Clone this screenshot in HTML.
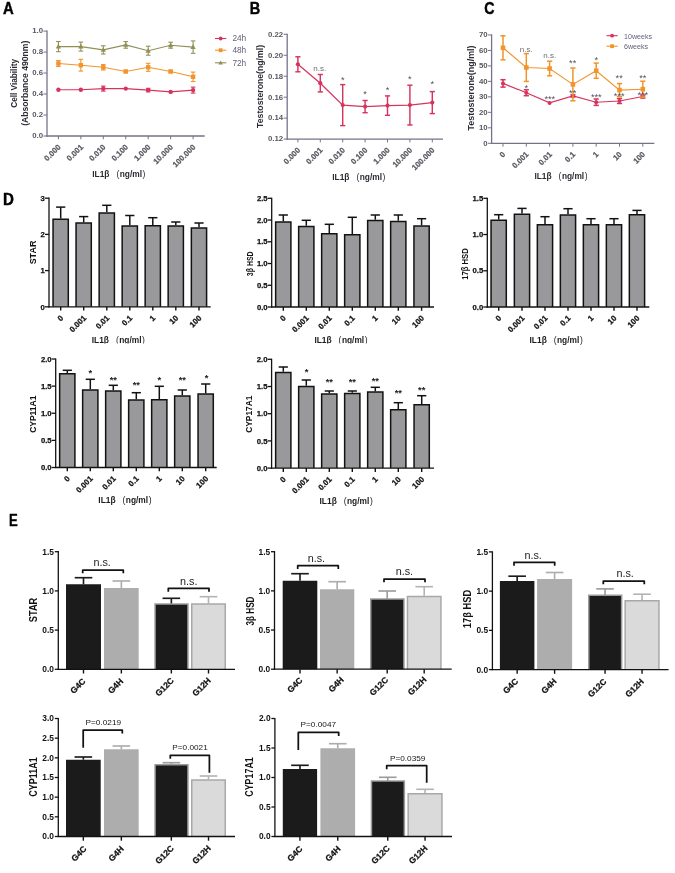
<!DOCTYPE html>
<html><head><meta charset="utf-8"><title>Figure</title>
<style>html,body{margin:0;padding:0;background:#fff;}svg{display:block;}text{font-family:"Liberation Sans",sans-serif;}</style>
</head><body>
<svg width="675" height="873" viewBox="0 0 675 873">
<rect x="0" y="0" width="675" height="873" fill="#ffffff"/>
<g opacity="0.996">
<text transform="translate(3 13.8) scale(0.88 1)" x="0" y="0" font-size="16.9" font-weight="bold" fill="#000" stroke="#000" stroke-width="0.45">A</text>
<text transform="translate(249.7 13.8) scale(0.86 1)" x="0" y="0" font-size="16.9" font-weight="bold" fill="#000" stroke="#000" stroke-width="0.45">B</text>
<text transform="translate(484.3 13.9) scale(0.82 1)" x="0" y="0" font-size="17.3" font-weight="bold" fill="#000" stroke="#000" stroke-width="0.45">C</text>
<text transform="translate(3.1 204.8) scale(0.93 1)" x="0" y="0" font-size="16.2" font-weight="bold" fill="#000" stroke="#000" stroke-width="0.45">D</text>
<text transform="translate(9 526.4) scale(0.76 1)" x="0" y="0" font-size="17.2" font-weight="bold" fill="#000" stroke="#000" stroke-width="0.45">E</text>
<line x1="47" y1="30.5" x2="47" y2="136.65" stroke="#737289" stroke-width="1.3" stroke-linecap="butt"/>
<line x1="46.35" y1="136" x2="204.7" y2="136" stroke="#737289" stroke-width="1.3" stroke-linecap="butt"/>
<line x1="43.4" y1="136" x2="47" y2="136" stroke="#737289" stroke-width="1" stroke-linecap="butt"/>
<text x="43" y="138.35" font-size="7.8" font-weight="bold" fill="#57565f" text-anchor="end">0.0</text>
<line x1="43.4" y1="115.02" x2="47" y2="115.02" stroke="#737289" stroke-width="1" stroke-linecap="butt"/>
<text x="43" y="117.37" font-size="7.8" font-weight="bold" fill="#57565f" text-anchor="end">0.2</text>
<line x1="43.4" y1="94.04" x2="47" y2="94.04" stroke="#737289" stroke-width="1" stroke-linecap="butt"/>
<text x="43" y="96.39" font-size="7.8" font-weight="bold" fill="#57565f" text-anchor="end">0.4</text>
<line x1="43.4" y1="73.06" x2="47" y2="73.06" stroke="#737289" stroke-width="1" stroke-linecap="butt"/>
<text x="43" y="75.41" font-size="7.8" font-weight="bold" fill="#57565f" text-anchor="end">0.6</text>
<line x1="43.4" y1="52.08" x2="47" y2="52.08" stroke="#737289" stroke-width="1" stroke-linecap="butt"/>
<text x="43" y="54.43" font-size="7.8" font-weight="bold" fill="#57565f" text-anchor="end">0.8</text>
<line x1="43.4" y1="31.1" x2="47" y2="31.1" stroke="#737289" stroke-width="1" stroke-linecap="butt"/>
<text x="43" y="33.45" font-size="7.8" font-weight="bold" fill="#57565f" text-anchor="end">1.0</text>
<line x1="58.4" y1="136" x2="58.4" y2="139.3" stroke="#737289" stroke-width="1" stroke-linecap="butt"/>
<text x="0" y="0" transform="translate(61.3 147.6) rotate(-45)" font-size="7.9" font-weight="bold" fill="#57565f" text-anchor="end" stroke="#57565f" stroke-width="0.2">0.000</text>
<line x1="80.85" y1="136" x2="80.85" y2="139.3" stroke="#737289" stroke-width="1" stroke-linecap="butt"/>
<text x="0" y="0" transform="translate(83.75 147.6) rotate(-45)" font-size="7.9" font-weight="bold" fill="#57565f" text-anchor="end" stroke="#57565f" stroke-width="0.2">0.001</text>
<line x1="103.3" y1="136" x2="103.3" y2="139.3" stroke="#737289" stroke-width="1" stroke-linecap="butt"/>
<text x="0" y="0" transform="translate(106.2 147.6) rotate(-45)" font-size="7.9" font-weight="bold" fill="#57565f" text-anchor="end" stroke="#57565f" stroke-width="0.2">0.010</text>
<line x1="125.75" y1="136" x2="125.75" y2="139.3" stroke="#737289" stroke-width="1" stroke-linecap="butt"/>
<text x="0" y="0" transform="translate(128.65 147.6) rotate(-45)" font-size="7.9" font-weight="bold" fill="#57565f" text-anchor="end" stroke="#57565f" stroke-width="0.2">0.100</text>
<line x1="148.2" y1="136" x2="148.2" y2="139.3" stroke="#737289" stroke-width="1" stroke-linecap="butt"/>
<text x="0" y="0" transform="translate(151.1 147.6) rotate(-45)" font-size="7.9" font-weight="bold" fill="#57565f" text-anchor="end" stroke="#57565f" stroke-width="0.2">1.000</text>
<line x1="170.65" y1="136" x2="170.65" y2="139.3" stroke="#737289" stroke-width="1" stroke-linecap="butt"/>
<text x="0" y="0" transform="translate(173.55 147.6) rotate(-45)" font-size="7.9" font-weight="bold" fill="#57565f" text-anchor="end" stroke="#57565f" stroke-width="0.2">10.000</text>
<line x1="193.1" y1="136" x2="193.1" y2="139.3" stroke="#737289" stroke-width="1" stroke-linecap="butt"/>
<text x="0" y="0" transform="translate(196 147.6) rotate(-45)" font-size="7.9" font-weight="bold" fill="#57565f" text-anchor="end" stroke="#57565f" stroke-width="0.2">100.000</text>
<path d="M58.4 46.6 L80.85 46.6 L103.3 49.9 L125.75 44.9 L148.2 50.7 L170.65 45.2 L193.1 47.1" fill="none" stroke="#918f55" stroke-width="1.1"/>
<line x1="58.4" y1="41.5" x2="58.4" y2="51.7" stroke="#918f55" stroke-width="1.1" stroke-linecap="butt"/>
<line x1="56.1" y1="41.5" x2="60.7" y2="41.5" stroke="#918f55" stroke-width="1.1" stroke-linecap="butt"/>
<line x1="56.1" y1="51.7" x2="60.7" y2="51.7" stroke="#918f55" stroke-width="1.1" stroke-linecap="butt"/>
<path d="M58.4 43.84 L61.05 48.55 L55.75 48.55 Z" fill="#918f55"/>
<line x1="80.85" y1="42.1" x2="80.85" y2="51.1" stroke="#918f55" stroke-width="1.1" stroke-linecap="butt"/>
<line x1="78.55" y1="42.1" x2="83.15" y2="42.1" stroke="#918f55" stroke-width="1.1" stroke-linecap="butt"/>
<line x1="78.55" y1="51.1" x2="83.15" y2="51.1" stroke="#918f55" stroke-width="1.1" stroke-linecap="butt"/>
<path d="M80.85 43.84 L83.49 48.55 L78.2 48.55 Z" fill="#918f55"/>
<line x1="103.3" y1="45.8" x2="103.3" y2="54" stroke="#918f55" stroke-width="1.1" stroke-linecap="butt"/>
<line x1="101" y1="45.8" x2="105.6" y2="45.8" stroke="#918f55" stroke-width="1.1" stroke-linecap="butt"/>
<line x1="101" y1="54" x2="105.6" y2="54" stroke="#918f55" stroke-width="1.1" stroke-linecap="butt"/>
<path d="M103.3 47.14 L105.94 51.85 L100.66 51.85 Z" fill="#918f55"/>
<line x1="125.75" y1="41.6" x2="125.75" y2="48.2" stroke="#918f55" stroke-width="1.1" stroke-linecap="butt"/>
<line x1="123.45" y1="41.6" x2="128.05" y2="41.6" stroke="#918f55" stroke-width="1.1" stroke-linecap="butt"/>
<line x1="123.45" y1="48.2" x2="128.05" y2="48.2" stroke="#918f55" stroke-width="1.1" stroke-linecap="butt"/>
<path d="M125.75 42.14 L128.4 46.85 L123.11 46.85 Z" fill="#918f55"/>
<line x1="148.2" y1="46.2" x2="148.2" y2="55.2" stroke="#918f55" stroke-width="1.1" stroke-linecap="butt"/>
<line x1="145.9" y1="46.2" x2="150.5" y2="46.2" stroke="#918f55" stroke-width="1.1" stroke-linecap="butt"/>
<line x1="145.9" y1="55.2" x2="150.5" y2="55.2" stroke="#918f55" stroke-width="1.1" stroke-linecap="butt"/>
<path d="M148.2 47.94 L150.84 52.66 L145.55 52.66 Z" fill="#918f55"/>
<line x1="170.65" y1="42.2" x2="170.65" y2="48.2" stroke="#918f55" stroke-width="1.1" stroke-linecap="butt"/>
<line x1="168.35" y1="42.2" x2="172.95" y2="42.2" stroke="#918f55" stroke-width="1.1" stroke-linecap="butt"/>
<line x1="168.35" y1="48.2" x2="172.95" y2="48.2" stroke="#918f55" stroke-width="1.1" stroke-linecap="butt"/>
<path d="M170.65 42.44 L173.3 47.16 L168 47.16 Z" fill="#918f55"/>
<line x1="193.1" y1="40.9" x2="193.1" y2="53.3" stroke="#918f55" stroke-width="1.1" stroke-linecap="butt"/>
<line x1="190.8" y1="40.9" x2="195.4" y2="40.9" stroke="#918f55" stroke-width="1.1" stroke-linecap="butt"/>
<line x1="190.8" y1="53.3" x2="195.4" y2="53.3" stroke="#918f55" stroke-width="1.1" stroke-linecap="butt"/>
<path d="M193.1 44.34 L195.75 49.05 L190.45 49.05 Z" fill="#918f55"/>
<path d="M58.4 63.5 L80.85 65.2 L103.3 67.3 L125.75 71.5 L148.2 67.3 L170.65 71.5 L193.1 76.8" fill="none" stroke="#f2932a" stroke-width="1.1"/>
<line x1="58.4" y1="60.6" x2="58.4" y2="66.4" stroke="#f2932a" stroke-width="1.1" stroke-linecap="butt"/>
<line x1="56.1" y1="60.6" x2="60.7" y2="60.6" stroke="#f2932a" stroke-width="1.1" stroke-linecap="butt"/>
<line x1="56.1" y1="66.4" x2="60.7" y2="66.4" stroke="#f2932a" stroke-width="1.1" stroke-linecap="butt"/>
<rect x="56.21" y="61.31" width="4.37" height="4.37" fill="#f2932a"/>
<line x1="80.85" y1="59.3" x2="80.85" y2="71.1" stroke="#f2932a" stroke-width="1.1" stroke-linecap="butt"/>
<line x1="78.55" y1="59.3" x2="83.15" y2="59.3" stroke="#f2932a" stroke-width="1.1" stroke-linecap="butt"/>
<line x1="78.55" y1="71.1" x2="83.15" y2="71.1" stroke="#f2932a" stroke-width="1.1" stroke-linecap="butt"/>
<rect x="78.66" y="63.02" width="4.37" height="4.37" fill="#f2932a"/>
<line x1="103.3" y1="64.6" x2="103.3" y2="70" stroke="#f2932a" stroke-width="1.1" stroke-linecap="butt"/>
<line x1="101" y1="64.6" x2="105.6" y2="64.6" stroke="#f2932a" stroke-width="1.1" stroke-linecap="butt"/>
<line x1="101" y1="70" x2="105.6" y2="70" stroke="#f2932a" stroke-width="1.1" stroke-linecap="butt"/>
<rect x="101.11" y="65.11" width="4.37" height="4.37" fill="#f2932a"/>
<line x1="125.75" y1="70.3" x2="125.75" y2="72.7" stroke="#f2932a" stroke-width="1.1" stroke-linecap="butt"/>
<line x1="123.45" y1="70.3" x2="128.05" y2="70.3" stroke="#f2932a" stroke-width="1.1" stroke-linecap="butt"/>
<line x1="123.45" y1="72.7" x2="128.05" y2="72.7" stroke="#f2932a" stroke-width="1.1" stroke-linecap="butt"/>
<rect x="123.56" y="69.31" width="4.37" height="4.37" fill="#f2932a"/>
<line x1="148.2" y1="63.3" x2="148.2" y2="71.3" stroke="#f2932a" stroke-width="1.1" stroke-linecap="butt"/>
<line x1="145.9" y1="63.3" x2="150.5" y2="63.3" stroke="#f2932a" stroke-width="1.1" stroke-linecap="butt"/>
<line x1="145.9" y1="71.3" x2="150.5" y2="71.3" stroke="#f2932a" stroke-width="1.1" stroke-linecap="butt"/>
<rect x="146.01" y="65.11" width="4.37" height="4.37" fill="#f2932a"/>
<line x1="170.65" y1="70.3" x2="170.65" y2="72.7" stroke="#f2932a" stroke-width="1.1" stroke-linecap="butt"/>
<line x1="168.35" y1="70.3" x2="172.95" y2="70.3" stroke="#f2932a" stroke-width="1.1" stroke-linecap="butt"/>
<line x1="168.35" y1="72.7" x2="172.95" y2="72.7" stroke="#f2932a" stroke-width="1.1" stroke-linecap="butt"/>
<rect x="168.47" y="69.31" width="4.37" height="4.37" fill="#f2932a"/>
<line x1="193.1" y1="72.1" x2="193.1" y2="81.5" stroke="#f2932a" stroke-width="1.1" stroke-linecap="butt"/>
<line x1="190.8" y1="72.1" x2="195.4" y2="72.1" stroke="#f2932a" stroke-width="1.1" stroke-linecap="butt"/>
<line x1="190.8" y1="81.5" x2="195.4" y2="81.5" stroke="#f2932a" stroke-width="1.1" stroke-linecap="butt"/>
<rect x="190.91" y="74.61" width="4.37" height="4.37" fill="#f2932a"/>
<path d="M58.4 89.8 L80.85 89.8 L103.3 88.6 L125.75 88.6 L148.2 90.1 L170.65 91.9 L193.1 90.1" fill="none" stroke="#d5335d" stroke-width="1.1"/>
<circle cx="58.4" cy="89.8" r="2.18" fill="#d5335d"/>
<circle cx="80.85" cy="89.8" r="2.18" fill="#d5335d"/>
<line x1="103.3" y1="86.1" x2="103.3" y2="91.1" stroke="#d5335d" stroke-width="1.1" stroke-linecap="butt"/>
<line x1="101" y1="86.1" x2="105.6" y2="86.1" stroke="#d5335d" stroke-width="1.1" stroke-linecap="butt"/>
<line x1="101" y1="91.1" x2="105.6" y2="91.1" stroke="#d5335d" stroke-width="1.1" stroke-linecap="butt"/>
<circle cx="103.3" cy="88.6" r="2.18" fill="#d5335d"/>
<circle cx="125.75" cy="88.6" r="2.18" fill="#d5335d"/>
<line x1="148.2" y1="88.3" x2="148.2" y2="91.9" stroke="#d5335d" stroke-width="1.1" stroke-linecap="butt"/>
<line x1="145.9" y1="88.3" x2="150.5" y2="88.3" stroke="#d5335d" stroke-width="1.1" stroke-linecap="butt"/>
<line x1="145.9" y1="91.9" x2="150.5" y2="91.9" stroke="#d5335d" stroke-width="1.1" stroke-linecap="butt"/>
<circle cx="148.2" cy="90.1" r="2.18" fill="#d5335d"/>
<circle cx="170.65" cy="91.9" r="2.18" fill="#d5335d"/>
<line x1="193.1" y1="87.1" x2="193.1" y2="93.1" stroke="#d5335d" stroke-width="1.1" stroke-linecap="butt"/>
<line x1="190.8" y1="87.1" x2="195.4" y2="87.1" stroke="#d5335d" stroke-width="1.1" stroke-linecap="butt"/>
<line x1="190.8" y1="93.1" x2="195.4" y2="93.1" stroke="#d5335d" stroke-width="1.1" stroke-linecap="butt"/>
<circle cx="193.1" cy="90.1" r="2.18" fill="#d5335d"/>
<text x="0" y="0" transform="translate(17.4 83.4) rotate(-90)" font-size="8.5" font-weight="bold" fill="#2b2a33" text-anchor="middle" textLength="48.8" lengthAdjust="spacingAndGlyphs">Cell Viability</text>
<text x="0" y="0" transform="translate(27.7 83.25) rotate(-90)" font-size="8.5" font-weight="bold" fill="#2b2a33" text-anchor="middle" textLength="85.1" lengthAdjust="spacingAndGlyphs">(Absorbance 490nm)</text>
<text x="92.2" y="176.6" font-size="8.6" font-weight="bold" fill="#2b2a33" text-anchor="start" textLength="17.3" lengthAdjust="spacingAndGlyphs">IL1β</text>
<text x="116.4" y="176.6" font-size="8.6" font-weight="normal" fill="#2b2a33" text-anchor="start">(</text>
<text x="119.7" y="176.6" font-size="8.6" font-weight="bold" fill="#2b2a33" text-anchor="start" textLength="22.3" lengthAdjust="spacingAndGlyphs">ng/ml</text>
<text x="142.6" y="176.6" font-size="8.6" font-weight="normal" fill="#2b2a33" text-anchor="start">)</text>
<line x1="215" y1="38.5" x2="226.3" y2="38.5" stroke="#d5335d" stroke-width="1.1" stroke-linecap="butt"/>
<circle cx="220.65" cy="38.5" r="1.9" fill="#d5335d"/>
<text x="232.4" y="41.3" font-size="8.3" font-weight="normal" fill="#625c78" text-anchor="start">24h</text>
<line x1="215" y1="50.2" x2="226.3" y2="50.2" stroke="#f2932a" stroke-width="1.1" stroke-linecap="butt"/>
<rect x="218.75" y="48.3" width="3.8" height="3.8" fill="#f2932a"/>
<text x="232.4" y="53" font-size="8.3" font-weight="normal" fill="#625c78" text-anchor="start">48h</text>
<line x1="215" y1="62.8" x2="226.3" y2="62.8" stroke="#918f55" stroke-width="1.1" stroke-linecap="butt"/>
<path d="M220.65 60.4 L222.95 64.5 L218.35 64.5 Z" fill="#918f55"/>
<text x="232.4" y="65.6" font-size="8.3" font-weight="normal" fill="#625c78" text-anchor="start">72h</text>
<line x1="287.2" y1="33.7" x2="287.2" y2="139.75" stroke="#737289" stroke-width="1.3" stroke-linecap="butt"/>
<line x1="286.55" y1="139.1" x2="443" y2="139.1" stroke="#737289" stroke-width="1.3" stroke-linecap="butt"/>
<line x1="283.6" y1="139.1" x2="287.2" y2="139.1" stroke="#737289" stroke-width="1" stroke-linecap="butt"/>
<text x="283.2" y="141.45" font-size="7.8" font-weight="bold" fill="#57565f" text-anchor="end">0.12</text>
<line x1="283.6" y1="118.14" x2="287.2" y2="118.14" stroke="#737289" stroke-width="1" stroke-linecap="butt"/>
<text x="283.2" y="120.49" font-size="7.8" font-weight="bold" fill="#57565f" text-anchor="end">0.14</text>
<line x1="283.6" y1="97.18" x2="287.2" y2="97.18" stroke="#737289" stroke-width="1" stroke-linecap="butt"/>
<text x="283.2" y="99.53" font-size="7.8" font-weight="bold" fill="#57565f" text-anchor="end">0.16</text>
<line x1="283.6" y1="76.22" x2="287.2" y2="76.22" stroke="#737289" stroke-width="1" stroke-linecap="butt"/>
<text x="283.2" y="78.57" font-size="7.8" font-weight="bold" fill="#57565f" text-anchor="end">0.18</text>
<line x1="283.6" y1="55.26" x2="287.2" y2="55.26" stroke="#737289" stroke-width="1" stroke-linecap="butt"/>
<text x="283.2" y="57.61" font-size="7.8" font-weight="bold" fill="#57565f" text-anchor="end">0.20</text>
<line x1="283.6" y1="34.3" x2="287.2" y2="34.3" stroke="#737289" stroke-width="1" stroke-linecap="butt"/>
<text x="283.2" y="36.65" font-size="7.8" font-weight="bold" fill="#57565f" text-anchor="end">0.22</text>
<line x1="297.9" y1="139.1" x2="297.9" y2="142.4" stroke="#737289" stroke-width="1" stroke-linecap="butt"/>
<text x="0" y="0" transform="translate(300.8 150.7) rotate(-45)" font-size="7.9" font-weight="bold" fill="#57565f" text-anchor="end" stroke="#57565f" stroke-width="0.2">0.000</text>
<line x1="320.3" y1="139.1" x2="320.3" y2="142.4" stroke="#737289" stroke-width="1" stroke-linecap="butt"/>
<text x="0" y="0" transform="translate(323.2 150.7) rotate(-45)" font-size="7.9" font-weight="bold" fill="#57565f" text-anchor="end" stroke="#57565f" stroke-width="0.2">0.001</text>
<line x1="342.7" y1="139.1" x2="342.7" y2="142.4" stroke="#737289" stroke-width="1" stroke-linecap="butt"/>
<text x="0" y="0" transform="translate(345.6 150.7) rotate(-45)" font-size="7.9" font-weight="bold" fill="#57565f" text-anchor="end" stroke="#57565f" stroke-width="0.2">0.010</text>
<line x1="365.1" y1="139.1" x2="365.1" y2="142.4" stroke="#737289" stroke-width="1" stroke-linecap="butt"/>
<text x="0" y="0" transform="translate(368 150.7) rotate(-45)" font-size="7.9" font-weight="bold" fill="#57565f" text-anchor="end" stroke="#57565f" stroke-width="0.2">0.100</text>
<line x1="387.5" y1="139.1" x2="387.5" y2="142.4" stroke="#737289" stroke-width="1" stroke-linecap="butt"/>
<text x="0" y="0" transform="translate(390.4 150.7) rotate(-45)" font-size="7.9" font-weight="bold" fill="#57565f" text-anchor="end" stroke="#57565f" stroke-width="0.2">1.000</text>
<line x1="409.9" y1="139.1" x2="409.9" y2="142.4" stroke="#737289" stroke-width="1" stroke-linecap="butt"/>
<text x="0" y="0" transform="translate(412.8 150.7) rotate(-45)" font-size="7.9" font-weight="bold" fill="#57565f" text-anchor="end" stroke="#57565f" stroke-width="0.2">10.000</text>
<line x1="432.3" y1="139.1" x2="432.3" y2="142.4" stroke="#737289" stroke-width="1" stroke-linecap="butt"/>
<text x="0" y="0" transform="translate(435.2 150.7) rotate(-45)" font-size="7.9" font-weight="bold" fill="#57565f" text-anchor="end" stroke="#57565f" stroke-width="0.2">100.000</text>
<path d="M297.9 64.3 L320.3 83.2 L342.7 105.1 L365.1 106.6 L387.5 105.6 L409.9 105.1 L432.3 102.6" fill="none" stroke="#d5335d" stroke-width="1.25"/>
<line x1="297.9" y1="56.8" x2="297.9" y2="71.8" stroke="#d5335d" stroke-width="1.45" stroke-linecap="butt"/>
<line x1="295.3" y1="56.8" x2="300.5" y2="56.8" stroke="#d5335d" stroke-width="1.45" stroke-linecap="butt"/>
<line x1="295.3" y1="71.8" x2="300.5" y2="71.8" stroke="#d5335d" stroke-width="1.45" stroke-linecap="butt"/>
<circle cx="297.9" cy="64.3" r="2.09" fill="#d5335d"/>
<line x1="320.3" y1="74.5" x2="320.3" y2="91.9" stroke="#d5335d" stroke-width="1.45" stroke-linecap="butt"/>
<line x1="317.7" y1="74.5" x2="322.9" y2="74.5" stroke="#d5335d" stroke-width="1.45" stroke-linecap="butt"/>
<line x1="317.7" y1="91.9" x2="322.9" y2="91.9" stroke="#d5335d" stroke-width="1.45" stroke-linecap="butt"/>
<circle cx="320.3" cy="83.2" r="2.09" fill="#d5335d"/>
<line x1="342.7" y1="84.6" x2="342.7" y2="125.6" stroke="#d5335d" stroke-width="1.45" stroke-linecap="butt"/>
<line x1="340.1" y1="84.6" x2="345.3" y2="84.6" stroke="#d5335d" stroke-width="1.45" stroke-linecap="butt"/>
<line x1="340.1" y1="125.6" x2="345.3" y2="125.6" stroke="#d5335d" stroke-width="1.45" stroke-linecap="butt"/>
<circle cx="342.7" cy="105.1" r="2.09" fill="#d5335d"/>
<line x1="365.1" y1="100.5" x2="365.1" y2="112.7" stroke="#d5335d" stroke-width="1.45" stroke-linecap="butt"/>
<line x1="362.5" y1="100.5" x2="367.7" y2="100.5" stroke="#d5335d" stroke-width="1.45" stroke-linecap="butt"/>
<line x1="362.5" y1="112.7" x2="367.7" y2="112.7" stroke="#d5335d" stroke-width="1.45" stroke-linecap="butt"/>
<circle cx="365.1" cy="106.6" r="2.09" fill="#d5335d"/>
<line x1="387.5" y1="95.9" x2="387.5" y2="115.3" stroke="#d5335d" stroke-width="1.45" stroke-linecap="butt"/>
<line x1="384.9" y1="95.9" x2="390.1" y2="95.9" stroke="#d5335d" stroke-width="1.45" stroke-linecap="butt"/>
<line x1="384.9" y1="115.3" x2="390.1" y2="115.3" stroke="#d5335d" stroke-width="1.45" stroke-linecap="butt"/>
<circle cx="387.5" cy="105.6" r="2.09" fill="#d5335d"/>
<line x1="409.9" y1="85.2" x2="409.9" y2="125" stroke="#d5335d" stroke-width="1.45" stroke-linecap="butt"/>
<line x1="407.3" y1="85.2" x2="412.5" y2="85.2" stroke="#d5335d" stroke-width="1.45" stroke-linecap="butt"/>
<line x1="407.3" y1="125" x2="412.5" y2="125" stroke="#d5335d" stroke-width="1.45" stroke-linecap="butt"/>
<circle cx="409.9" cy="105.1" r="2.09" fill="#d5335d"/>
<line x1="432.3" y1="91.6" x2="432.3" y2="113.6" stroke="#d5335d" stroke-width="1.45" stroke-linecap="butt"/>
<line x1="429.7" y1="91.6" x2="434.9" y2="91.6" stroke="#d5335d" stroke-width="1.45" stroke-linecap="butt"/>
<line x1="429.7" y1="113.6" x2="434.9" y2="113.6" stroke="#d5335d" stroke-width="1.45" stroke-linecap="butt"/>
<circle cx="432.3" cy="102.6" r="2.09" fill="#d5335d"/>
<text x="0" y="0" transform="translate(263.4 86.4) rotate(-90)" font-size="8.8" font-weight="bold" fill="#2b2a33" text-anchor="middle" textLength="83" lengthAdjust="spacingAndGlyphs">Testosterone(ng/ml)</text>
<text x="332.2" y="179.7" font-size="8.6" font-weight="bold" fill="#2b2a33" text-anchor="start" textLength="17.3" lengthAdjust="spacingAndGlyphs">IL1β</text>
<text x="356.4" y="179.7" font-size="8.6" font-weight="normal" fill="#2b2a33" text-anchor="start">(</text>
<text x="359.7" y="179.7" font-size="8.6" font-weight="bold" fill="#2b2a33" text-anchor="start" textLength="22.3" lengthAdjust="spacingAndGlyphs">ng/ml</text>
<text x="382.6" y="179.7" font-size="8.6" font-weight="normal" fill="#2b2a33" text-anchor="start">)</text>
<text x="319.8" y="70.7" font-size="8" font-weight="normal" fill="#6c6b76" text-anchor="middle">n.s.</text>
<text x="342.7" y="82.9" font-size="9.2" font-weight="normal" fill="#4e4d58" text-anchor="middle">*</text>
<text x="365.1" y="97.1" font-size="9.2" font-weight="normal" fill="#4e4d58" text-anchor="middle">*</text>
<text x="387.5" y="92.8" font-size="9.2" font-weight="normal" fill="#4e4d58" text-anchor="middle">*</text>
<text x="409.9" y="82.1" font-size="9.2" font-weight="normal" fill="#4e4d58" text-anchor="middle">*</text>
<text x="432.3" y="87.4" font-size="9.2" font-weight="normal" fill="#4e4d58" text-anchor="middle">*</text>
<line x1="491.6" y1="34.35" x2="491.6" y2="143.95" stroke="#737289" stroke-width="1.3" stroke-linecap="butt"/>
<line x1="490.95" y1="143.3" x2="654.3" y2="143.3" stroke="#737289" stroke-width="1.3" stroke-linecap="butt"/>
<line x1="488" y1="143.3" x2="491.6" y2="143.3" stroke="#737289" stroke-width="1" stroke-linecap="butt"/>
<text x="487.6" y="145.65" font-size="7.8" font-weight="bold" fill="#57565f" text-anchor="end">0</text>
<line x1="488" y1="127.82" x2="491.6" y2="127.82" stroke="#737289" stroke-width="1" stroke-linecap="butt"/>
<text x="487.6" y="130.17" font-size="7.8" font-weight="bold" fill="#57565f" text-anchor="end">10</text>
<line x1="488" y1="112.34" x2="491.6" y2="112.34" stroke="#737289" stroke-width="1" stroke-linecap="butt"/>
<text x="487.6" y="114.69" font-size="7.8" font-weight="bold" fill="#57565f" text-anchor="end">20</text>
<line x1="488" y1="96.86" x2="491.6" y2="96.86" stroke="#737289" stroke-width="1" stroke-linecap="butt"/>
<text x="487.6" y="99.21" font-size="7.8" font-weight="bold" fill="#57565f" text-anchor="end">30</text>
<line x1="488" y1="81.39" x2="491.6" y2="81.39" stroke="#737289" stroke-width="1" stroke-linecap="butt"/>
<text x="487.6" y="83.74" font-size="7.8" font-weight="bold" fill="#57565f" text-anchor="end">40</text>
<line x1="488" y1="65.91" x2="491.6" y2="65.91" stroke="#737289" stroke-width="1" stroke-linecap="butt"/>
<text x="487.6" y="68.26" font-size="7.8" font-weight="bold" fill="#57565f" text-anchor="end">50</text>
<line x1="488" y1="50.43" x2="491.6" y2="50.43" stroke="#737289" stroke-width="1" stroke-linecap="butt"/>
<text x="487.6" y="52.78" font-size="7.8" font-weight="bold" fill="#57565f" text-anchor="end">60</text>
<line x1="488" y1="34.95" x2="491.6" y2="34.95" stroke="#737289" stroke-width="1" stroke-linecap="butt"/>
<text x="487.6" y="37.3" font-size="7.8" font-weight="bold" fill="#57565f" text-anchor="end">70</text>
<line x1="503" y1="143.3" x2="503" y2="146.6" stroke="#737289" stroke-width="1" stroke-linecap="butt"/>
<text x="0" y="0" transform="translate(505.9 154.9) rotate(-45)" font-size="7.9" font-weight="bold" fill="#57565f" text-anchor="end" stroke="#57565f" stroke-width="0.2">0</text>
<line x1="526.3" y1="143.3" x2="526.3" y2="146.6" stroke="#737289" stroke-width="1" stroke-linecap="butt"/>
<text x="0" y="0" transform="translate(529.2 154.9) rotate(-45)" font-size="7.9" font-weight="bold" fill="#57565f" text-anchor="end" stroke="#57565f" stroke-width="0.2">0.001</text>
<line x1="549.6" y1="143.3" x2="549.6" y2="146.6" stroke="#737289" stroke-width="1" stroke-linecap="butt"/>
<text x="0" y="0" transform="translate(552.5 154.9) rotate(-45)" font-size="7.9" font-weight="bold" fill="#57565f" text-anchor="end" stroke="#57565f" stroke-width="0.2">0.01</text>
<line x1="572.9" y1="143.3" x2="572.9" y2="146.6" stroke="#737289" stroke-width="1" stroke-linecap="butt"/>
<text x="0" y="0" transform="translate(575.8 154.9) rotate(-45)" font-size="7.9" font-weight="bold" fill="#57565f" text-anchor="end" stroke="#57565f" stroke-width="0.2">0.1</text>
<line x1="596.2" y1="143.3" x2="596.2" y2="146.6" stroke="#737289" stroke-width="1" stroke-linecap="butt"/>
<text x="0" y="0" transform="translate(599.1 154.9) rotate(-45)" font-size="7.9" font-weight="bold" fill="#57565f" text-anchor="end" stroke="#57565f" stroke-width="0.2">1</text>
<line x1="619.5" y1="143.3" x2="619.5" y2="146.6" stroke="#737289" stroke-width="1" stroke-linecap="butt"/>
<text x="0" y="0" transform="translate(622.4 154.9) rotate(-45)" font-size="7.9" font-weight="bold" fill="#57565f" text-anchor="end" stroke="#57565f" stroke-width="0.2">10</text>
<line x1="642.8" y1="143.3" x2="642.8" y2="146.6" stroke="#737289" stroke-width="1" stroke-linecap="butt"/>
<text x="0" y="0" transform="translate(645.7 154.9) rotate(-45)" font-size="7.9" font-weight="bold" fill="#57565f" text-anchor="end" stroke="#57565f" stroke-width="0.2">100</text>
<path d="M503 83.4 L526.3 92.7 L549.6 102.9 L572.9 95.9 L596.2 102.2 L619.5 101 L642.8 96.5" fill="none" stroke="#d5335d" stroke-width="1.15"/>
<line x1="503" y1="79.7" x2="503" y2="87.1" stroke="#d5335d" stroke-width="1.5" stroke-linecap="butt"/>
<line x1="500.4" y1="79.7" x2="505.6" y2="79.7" stroke="#d5335d" stroke-width="1.5" stroke-linecap="butt"/>
<line x1="500.4" y1="87.1" x2="505.6" y2="87.1" stroke="#d5335d" stroke-width="1.5" stroke-linecap="butt"/>
<circle cx="503" cy="83.4" r="2.01" fill="#d5335d"/>
<line x1="526.3" y1="89.7" x2="526.3" y2="95.7" stroke="#d5335d" stroke-width="1.5" stroke-linecap="butt"/>
<line x1="523.7" y1="89.7" x2="528.9" y2="89.7" stroke="#d5335d" stroke-width="1.5" stroke-linecap="butt"/>
<line x1="523.7" y1="95.7" x2="528.9" y2="95.7" stroke="#d5335d" stroke-width="1.5" stroke-linecap="butt"/>
<circle cx="526.3" cy="92.7" r="2.01" fill="#d5335d"/>
<circle cx="549.6" cy="102.9" r="2.01" fill="#d5335d"/>
<line x1="572.9" y1="94.9" x2="572.9" y2="96.9" stroke="#d5335d" stroke-width="1.5" stroke-linecap="butt"/>
<line x1="570.3" y1="94.9" x2="575.5" y2="94.9" stroke="#d5335d" stroke-width="1.5" stroke-linecap="butt"/>
<line x1="570.3" y1="96.9" x2="575.5" y2="96.9" stroke="#d5335d" stroke-width="1.5" stroke-linecap="butt"/>
<circle cx="572.9" cy="95.9" r="2.01" fill="#d5335d"/>
<line x1="596.2" y1="99" x2="596.2" y2="105.4" stroke="#d5335d" stroke-width="1.5" stroke-linecap="butt"/>
<line x1="593.6" y1="99" x2="598.8" y2="99" stroke="#d5335d" stroke-width="1.5" stroke-linecap="butt"/>
<line x1="593.6" y1="105.4" x2="598.8" y2="105.4" stroke="#d5335d" stroke-width="1.5" stroke-linecap="butt"/>
<circle cx="596.2" cy="102.2" r="2.01" fill="#d5335d"/>
<line x1="619.5" y1="98.5" x2="619.5" y2="103.5" stroke="#d5335d" stroke-width="1.5" stroke-linecap="butt"/>
<line x1="616.9" y1="98.5" x2="622.1" y2="98.5" stroke="#d5335d" stroke-width="1.5" stroke-linecap="butt"/>
<line x1="616.9" y1="103.5" x2="622.1" y2="103.5" stroke="#d5335d" stroke-width="1.5" stroke-linecap="butt"/>
<circle cx="619.5" cy="101" r="2.01" fill="#d5335d"/>
<line x1="642.8" y1="95" x2="642.8" y2="98" stroke="#d5335d" stroke-width="1.5" stroke-linecap="butt"/>
<line x1="640.2" y1="95" x2="645.4" y2="95" stroke="#d5335d" stroke-width="1.5" stroke-linecap="butt"/>
<line x1="640.2" y1="98" x2="645.4" y2="98" stroke="#d5335d" stroke-width="1.5" stroke-linecap="butt"/>
<circle cx="642.8" cy="96.5" r="2.01" fill="#d5335d"/>
<path d="M503 47.8 L526.3 67.5 L549.6 68.5 L572.9 84.4 L596.2 70.7 L619.5 90.1 L642.8 89.2" fill="none" stroke="#f2932a" stroke-width="1.15"/>
<line x1="503" y1="35.8" x2="503" y2="59.8" stroke="#f2932a" stroke-width="1.5" stroke-linecap="butt"/>
<line x1="500.4" y1="35.8" x2="505.6" y2="35.8" stroke="#f2932a" stroke-width="1.5" stroke-linecap="butt"/>
<line x1="500.4" y1="59.8" x2="505.6" y2="59.8" stroke="#f2932a" stroke-width="1.5" stroke-linecap="butt"/>
<rect x="500.72" y="45.52" width="4.56" height="4.56" fill="#f2932a"/>
<line x1="526.3" y1="53.6" x2="526.3" y2="81.4" stroke="#f2932a" stroke-width="1.5" stroke-linecap="butt"/>
<line x1="523.7" y1="53.6" x2="528.9" y2="53.6" stroke="#f2932a" stroke-width="1.5" stroke-linecap="butt"/>
<line x1="523.7" y1="81.4" x2="528.9" y2="81.4" stroke="#f2932a" stroke-width="1.5" stroke-linecap="butt"/>
<rect x="524.02" y="65.22" width="4.56" height="4.56" fill="#f2932a"/>
<line x1="549.6" y1="61.2" x2="549.6" y2="75.8" stroke="#f2932a" stroke-width="1.5" stroke-linecap="butt"/>
<line x1="547" y1="61.2" x2="552.2" y2="61.2" stroke="#f2932a" stroke-width="1.5" stroke-linecap="butt"/>
<line x1="547" y1="75.8" x2="552.2" y2="75.8" stroke="#f2932a" stroke-width="1.5" stroke-linecap="butt"/>
<rect x="547.32" y="66.22" width="4.56" height="4.56" fill="#f2932a"/>
<line x1="572.9" y1="68" x2="572.9" y2="100.8" stroke="#f2932a" stroke-width="1.5" stroke-linecap="butt"/>
<line x1="570.3" y1="68" x2="575.5" y2="68" stroke="#f2932a" stroke-width="1.5" stroke-linecap="butt"/>
<line x1="570.3" y1="100.8" x2="575.5" y2="100.8" stroke="#f2932a" stroke-width="1.5" stroke-linecap="butt"/>
<rect x="570.62" y="82.12" width="4.56" height="4.56" fill="#f2932a"/>
<line x1="596.2" y1="63.1" x2="596.2" y2="78.3" stroke="#f2932a" stroke-width="1.5" stroke-linecap="butt"/>
<line x1="593.6" y1="63.1" x2="598.8" y2="63.1" stroke="#f2932a" stroke-width="1.5" stroke-linecap="butt"/>
<line x1="593.6" y1="78.3" x2="598.8" y2="78.3" stroke="#f2932a" stroke-width="1.5" stroke-linecap="butt"/>
<rect x="593.92" y="68.42" width="4.56" height="4.56" fill="#f2932a"/>
<line x1="619.5" y1="83.6" x2="619.5" y2="96.6" stroke="#f2932a" stroke-width="1.5" stroke-linecap="butt"/>
<line x1="616.9" y1="83.6" x2="622.1" y2="83.6" stroke="#f2932a" stroke-width="1.5" stroke-linecap="butt"/>
<line x1="616.9" y1="96.6" x2="622.1" y2="96.6" stroke="#f2932a" stroke-width="1.5" stroke-linecap="butt"/>
<rect x="617.22" y="87.82" width="4.56" height="4.56" fill="#f2932a"/>
<line x1="642.8" y1="81.2" x2="642.8" y2="97.2" stroke="#f2932a" stroke-width="1.5" stroke-linecap="butt"/>
<line x1="640.2" y1="81.2" x2="645.4" y2="81.2" stroke="#f2932a" stroke-width="1.5" stroke-linecap="butt"/>
<line x1="640.2" y1="97.2" x2="645.4" y2="97.2" stroke="#f2932a" stroke-width="1.5" stroke-linecap="butt"/>
<rect x="640.52" y="86.92" width="4.56" height="4.56" fill="#f2932a"/>
<text x="0" y="0" transform="translate(473.8 88) rotate(-90)" font-size="8.8" font-weight="bold" fill="#2b2a33" text-anchor="middle" textLength="85" lengthAdjust="spacingAndGlyphs">Testosterone(ng/ml)</text>
<text x="534.4" y="179.3" font-size="8.6" font-weight="bold" fill="#2b2a33" text-anchor="start" textLength="17.3" lengthAdjust="spacingAndGlyphs">IL1β</text>
<text x="558.6" y="179.3" font-size="8.6" font-weight="normal" fill="#2b2a33" text-anchor="start">(</text>
<text x="561.9" y="179.3" font-size="8.6" font-weight="bold" fill="#2b2a33" text-anchor="start" textLength="22.3" lengthAdjust="spacingAndGlyphs">ng/ml</text>
<text x="584.8" y="179.3" font-size="8.6" font-weight="normal" fill="#2b2a33" text-anchor="start">)</text>
<line x1="606.5" y1="35.7" x2="617.7" y2="35.7" stroke="#d5335d" stroke-width="1.1" stroke-linecap="butt"/>
<circle cx="612.1" cy="35.7" r="1.9" fill="#d5335d"/>
<text x="624" y="38.5" font-size="7.1" font-weight="normal" fill="#625c78" text-anchor="start">10weeks</text>
<line x1="606.5" y1="46.2" x2="617.7" y2="46.2" stroke="#f2932a" stroke-width="1.1" stroke-linecap="butt"/>
<rect x="610.2" y="44.3" width="3.8" height="3.8" fill="#f2932a"/>
<text x="624" y="49" font-size="7.1" font-weight="normal" fill="#625c78" text-anchor="start">6weeks</text>
<text x="526.2" y="51.6" font-size="8" font-weight="normal" fill="#6c6b76" text-anchor="middle">n.s.</text>
<text x="549.8" y="57.9" font-size="8" font-weight="normal" fill="#6c6b76" text-anchor="middle">n.s.</text>
<text x="572.7" y="65.9" font-size="9.2" font-weight="normal" fill="#4e4d58" text-anchor="middle">**</text>
<text x="596.3" y="63.4" font-size="9.2" font-weight="normal" fill="#4e4d58" text-anchor="middle">*</text>
<text x="619.2" y="81.3" font-size="9.2" font-weight="normal" fill="#4e4d58" text-anchor="middle">**</text>
<text x="642.8" y="80.6" font-size="9.2" font-weight="normal" fill="#4e4d58" text-anchor="middle">**</text>
<text x="526.2" y="90.9" font-size="9.2" font-weight="normal" fill="#4e4d58" text-anchor="middle">*</text>
<text x="549.8" y="101.9" font-size="9.2" font-weight="normal" fill="#4e4d58" text-anchor="middle">***</text>
<text x="572.7" y="96.3" font-size="9.2" font-weight="normal" fill="#4e4d58" text-anchor="middle">**</text>
<text x="596.3" y="100.4" font-size="9.2" font-weight="normal" fill="#4e4d58" text-anchor="middle">***</text>
<text x="619.2" y="98.9" font-size="9.2" font-weight="normal" fill="#4e4d58" text-anchor="middle">***</text>
<text x="642.8" y="97.9" font-size="9.2" font-weight="normal" fill="#4e4d58" text-anchor="middle">***</text>
<line x1="60.7" y1="207.1" x2="60.7" y2="218.6" stroke="#111" stroke-width="1.5" stroke-linecap="butt"/>
<line x1="56.1" y1="207.1" x2="65.3" y2="207.1" stroke="#111" stroke-width="1.5" stroke-linecap="butt"/>
<path d="M53.05 306.8 L53.05 219.35 L68.3 219.35 L68.3 306.8" fill="#99999b" stroke="#111" stroke-width="1.5"/>
<line x1="83.7" y1="216.6" x2="83.7" y2="222.3" stroke="#111" stroke-width="1.5" stroke-linecap="butt"/>
<line x1="79.1" y1="216.6" x2="88.3" y2="216.6" stroke="#111" stroke-width="1.5" stroke-linecap="butt"/>
<path d="M76.05 306.8 L76.05 223.05 L91.3 223.05 L91.3 306.8" fill="#99999b" stroke="#111" stroke-width="1.5"/>
<line x1="106.8" y1="205.3" x2="106.8" y2="212.2" stroke="#111" stroke-width="1.5" stroke-linecap="butt"/>
<line x1="102.2" y1="205.3" x2="111.4" y2="205.3" stroke="#111" stroke-width="1.5" stroke-linecap="butt"/>
<path d="M99.15 306.8 L99.15 212.95 L114.4 212.95 L114.4 306.8" fill="#99999b" stroke="#111" stroke-width="1.5"/>
<line x1="129.8" y1="215.5" x2="129.8" y2="225.3" stroke="#111" stroke-width="1.5" stroke-linecap="butt"/>
<line x1="125.2" y1="215.5" x2="134.4" y2="215.5" stroke="#111" stroke-width="1.5" stroke-linecap="butt"/>
<path d="M122.15 306.8 L122.15 226.05 L137.4 226.05 L137.4 306.8" fill="#99999b" stroke="#111" stroke-width="1.5"/>
<line x1="152.8" y1="217.7" x2="152.8" y2="225" stroke="#111" stroke-width="1.5" stroke-linecap="butt"/>
<line x1="148.2" y1="217.7" x2="157.4" y2="217.7" stroke="#111" stroke-width="1.5" stroke-linecap="butt"/>
<path d="M145.15 306.8 L145.15 225.75 L160.4 225.75 L160.4 306.8" fill="#99999b" stroke="#111" stroke-width="1.5"/>
<line x1="175.8" y1="222" x2="175.8" y2="225.3" stroke="#111" stroke-width="1.5" stroke-linecap="butt"/>
<line x1="171.2" y1="222" x2="180.4" y2="222" stroke="#111" stroke-width="1.5" stroke-linecap="butt"/>
<path d="M168.15 306.8 L168.15 226.05 L183.4 226.05 L183.4 306.8" fill="#99999b" stroke="#111" stroke-width="1.5"/>
<line x1="199" y1="223" x2="199" y2="227.3" stroke="#111" stroke-width="1.5" stroke-linecap="butt"/>
<line x1="194.4" y1="223" x2="203.6" y2="223" stroke="#111" stroke-width="1.5" stroke-linecap="butt"/>
<path d="M191.35 306.8 L191.35 228.05 L206.6 228.05 L206.6 306.8" fill="#99999b" stroke="#111" stroke-width="1.5"/>
<line x1="49" y1="197.6" x2="49" y2="307.4" stroke="#111" stroke-width="1.3" stroke-linecap="butt"/>
<line x1="48.4" y1="306.8" x2="210.7" y2="306.8" stroke="#111" stroke-width="1.3" stroke-linecap="butt"/>
<line x1="45" y1="306.8" x2="49" y2="306.8" stroke="#111" stroke-width="1.3" stroke-linecap="butt"/>
<text x="44.9" y="309.5" font-size="7.7" font-weight="bold" fill="#111" text-anchor="end" stroke="#111" stroke-width="0.25">0</text>
<line x1="45" y1="270.6" x2="49" y2="270.6" stroke="#111" stroke-width="1.3" stroke-linecap="butt"/>
<text x="44.9" y="273.3" font-size="7.7" font-weight="bold" fill="#111" text-anchor="end" stroke="#111" stroke-width="0.25">1</text>
<line x1="45" y1="234.4" x2="49" y2="234.4" stroke="#111" stroke-width="1.3" stroke-linecap="butt"/>
<text x="44.9" y="237.1" font-size="7.7" font-weight="bold" fill="#111" text-anchor="end" stroke="#111" stroke-width="0.25">2</text>
<line x1="45" y1="198.2" x2="49" y2="198.2" stroke="#111" stroke-width="1.3" stroke-linecap="butt"/>
<text x="44.9" y="200.9" font-size="7.7" font-weight="bold" fill="#111" text-anchor="end" stroke="#111" stroke-width="0.25">3</text>
<line x1="60.7" y1="306.8" x2="60.7" y2="310.6" stroke="#111" stroke-width="1.4" stroke-linecap="butt"/>
<text x="0" y="0" transform="translate(63.8 318.5) rotate(-45)" font-size="8" font-weight="bold" fill="#111" text-anchor="end" stroke="#111" stroke-width="0.25">0</text>
<line x1="83.7" y1="306.8" x2="83.7" y2="310.6" stroke="#111" stroke-width="1.4" stroke-linecap="butt"/>
<text x="0" y="0" transform="translate(86.8 318.5) rotate(-45)" font-size="8" font-weight="bold" fill="#111" text-anchor="end" stroke="#111" stroke-width="0.25">0.001</text>
<line x1="106.8" y1="306.8" x2="106.8" y2="310.6" stroke="#111" stroke-width="1.4" stroke-linecap="butt"/>
<text x="0" y="0" transform="translate(109.9 318.5) rotate(-45)" font-size="8" font-weight="bold" fill="#111" text-anchor="end" stroke="#111" stroke-width="0.25">0.01</text>
<line x1="129.8" y1="306.8" x2="129.8" y2="310.6" stroke="#111" stroke-width="1.4" stroke-linecap="butt"/>
<text x="0" y="0" transform="translate(132.9 318.5) rotate(-45)" font-size="8" font-weight="bold" fill="#111" text-anchor="end" stroke="#111" stroke-width="0.25">0.1</text>
<line x1="152.8" y1="306.8" x2="152.8" y2="310.6" stroke="#111" stroke-width="1.4" stroke-linecap="butt"/>
<text x="0" y="0" transform="translate(155.9 318.5) rotate(-45)" font-size="8" font-weight="bold" fill="#111" text-anchor="end" stroke="#111" stroke-width="0.25">1</text>
<line x1="175.8" y1="306.8" x2="175.8" y2="310.6" stroke="#111" stroke-width="1.4" stroke-linecap="butt"/>
<text x="0" y="0" transform="translate(178.9 318.5) rotate(-45)" font-size="8" font-weight="bold" fill="#111" text-anchor="end" stroke="#111" stroke-width="0.25">10</text>
<line x1="199" y1="306.8" x2="199" y2="310.6" stroke="#111" stroke-width="1.4" stroke-linecap="butt"/>
<text x="0" y="0" transform="translate(202.1 318.5) rotate(-45)" font-size="8" font-weight="bold" fill="#111" text-anchor="end" stroke="#111" stroke-width="0.25">100</text>
<text x="0" y="0" transform="translate(35.9 252.5) rotate(-90)" font-size="9.8" font-weight="bold" fill="#111" text-anchor="middle" textLength="23.7" lengthAdjust="spacingAndGlyphs">STAR</text>
<text x="91.7" y="342.5" font-size="8.6" font-weight="bold" fill="#1a1a1a" text-anchor="start" textLength="17.3" lengthAdjust="spacingAndGlyphs">IL1β</text>
<text x="115.9" y="342.5" font-size="8.6" font-weight="normal" fill="#1a1a1a" text-anchor="start">(</text>
<text x="119.2" y="342.5" font-size="8.6" font-weight="bold" fill="#1a1a1a" text-anchor="start" textLength="22.3" lengthAdjust="spacingAndGlyphs">ng/ml</text>
<text x="142.1" y="342.5" font-size="8.6" font-weight="normal" fill="#1a1a1a" text-anchor="start">)</text>
<rect x="90.2" y="343.5" width="60" height="4" fill="#fff"/>
<line x1="283.3" y1="215" x2="283.3" y2="221.3" stroke="#111" stroke-width="1.5" stroke-linecap="butt"/>
<line x1="278.7" y1="215" x2="287.9" y2="215" stroke="#111" stroke-width="1.5" stroke-linecap="butt"/>
<path d="M275.65 307 L275.65 222.05 L290.9 222.05 L290.9 307" fill="#99999b" stroke="#111" stroke-width="1.5"/>
<line x1="306.3" y1="220.3" x2="306.3" y2="225.7" stroke="#111" stroke-width="1.5" stroke-linecap="butt"/>
<line x1="301.7" y1="220.3" x2="310.9" y2="220.3" stroke="#111" stroke-width="1.5" stroke-linecap="butt"/>
<path d="M298.65 307 L298.65 226.45 L313.9 226.45 L313.9 307" fill="#99999b" stroke="#111" stroke-width="1.5"/>
<line x1="329.3" y1="224.3" x2="329.3" y2="233" stroke="#111" stroke-width="1.5" stroke-linecap="butt"/>
<line x1="324.7" y1="224.3" x2="333.9" y2="224.3" stroke="#111" stroke-width="1.5" stroke-linecap="butt"/>
<path d="M321.65 307 L321.65 233.75 L336.9 233.75 L336.9 307" fill="#99999b" stroke="#111" stroke-width="1.5"/>
<line x1="352.3" y1="217.3" x2="352.3" y2="234" stroke="#111" stroke-width="1.5" stroke-linecap="butt"/>
<line x1="347.7" y1="217.3" x2="356.9" y2="217.3" stroke="#111" stroke-width="1.5" stroke-linecap="butt"/>
<path d="M344.65 307 L344.65 234.75 L359.9 234.75 L359.9 307" fill="#99999b" stroke="#111" stroke-width="1.5"/>
<line x1="375.3" y1="215" x2="375.3" y2="219.7" stroke="#111" stroke-width="1.5" stroke-linecap="butt"/>
<line x1="370.7" y1="215" x2="379.9" y2="215" stroke="#111" stroke-width="1.5" stroke-linecap="butt"/>
<path d="M367.65 307 L367.65 220.45 L382.9 220.45 L382.9 307" fill="#99999b" stroke="#111" stroke-width="1.5"/>
<line x1="398.3" y1="215" x2="398.3" y2="220.7" stroke="#111" stroke-width="1.5" stroke-linecap="butt"/>
<line x1="393.7" y1="215" x2="402.9" y2="215" stroke="#111" stroke-width="1.5" stroke-linecap="butt"/>
<path d="M390.65 307 L390.65 221.45 L405.9 221.45 L405.9 307" fill="#99999b" stroke="#111" stroke-width="1.5"/>
<line x1="421.6" y1="218.7" x2="421.6" y2="225.3" stroke="#111" stroke-width="1.5" stroke-linecap="butt"/>
<line x1="417" y1="218.7" x2="426.2" y2="218.7" stroke="#111" stroke-width="1.5" stroke-linecap="butt"/>
<path d="M413.95 307 L413.95 226.05 L429.2 226.05 L429.2 307" fill="#99999b" stroke="#111" stroke-width="1.5"/>
<line x1="271.7" y1="197.7" x2="271.7" y2="307.6" stroke="#111" stroke-width="1.3" stroke-linecap="butt"/>
<line x1="271.1" y1="307" x2="434" y2="307" stroke="#111" stroke-width="1.3" stroke-linecap="butt"/>
<line x1="267.7" y1="307" x2="271.7" y2="307" stroke="#111" stroke-width="1.3" stroke-linecap="butt"/>
<text x="267.6" y="309.7" font-size="7.7" font-weight="bold" fill="#111" text-anchor="end" stroke="#111" stroke-width="0.25">0.0</text>
<line x1="267.7" y1="285.26" x2="271.7" y2="285.26" stroke="#111" stroke-width="1.3" stroke-linecap="butt"/>
<text x="267.6" y="287.96" font-size="7.7" font-weight="bold" fill="#111" text-anchor="end" stroke="#111" stroke-width="0.25">0.5</text>
<line x1="267.7" y1="263.52" x2="271.7" y2="263.52" stroke="#111" stroke-width="1.3" stroke-linecap="butt"/>
<text x="267.6" y="266.22" font-size="7.7" font-weight="bold" fill="#111" text-anchor="end" stroke="#111" stroke-width="0.25">1.0</text>
<line x1="267.7" y1="241.78" x2="271.7" y2="241.78" stroke="#111" stroke-width="1.3" stroke-linecap="butt"/>
<text x="267.6" y="244.48" font-size="7.7" font-weight="bold" fill="#111" text-anchor="end" stroke="#111" stroke-width="0.25">1.5</text>
<line x1="267.7" y1="220.04" x2="271.7" y2="220.04" stroke="#111" stroke-width="1.3" stroke-linecap="butt"/>
<text x="267.6" y="222.74" font-size="7.7" font-weight="bold" fill="#111" text-anchor="end" stroke="#111" stroke-width="0.25">2.0</text>
<line x1="267.7" y1="198.3" x2="271.7" y2="198.3" stroke="#111" stroke-width="1.3" stroke-linecap="butt"/>
<text x="267.6" y="201" font-size="7.7" font-weight="bold" fill="#111" text-anchor="end" stroke="#111" stroke-width="0.25">2.5</text>
<line x1="283.3" y1="307" x2="283.3" y2="310.8" stroke="#111" stroke-width="1.4" stroke-linecap="butt"/>
<text x="0" y="0" transform="translate(286.4 318.7) rotate(-45)" font-size="8" font-weight="bold" fill="#111" text-anchor="end" stroke="#111" stroke-width="0.25">0</text>
<line x1="306.3" y1="307" x2="306.3" y2="310.8" stroke="#111" stroke-width="1.4" stroke-linecap="butt"/>
<text x="0" y="0" transform="translate(309.4 318.7) rotate(-45)" font-size="8" font-weight="bold" fill="#111" text-anchor="end" stroke="#111" stroke-width="0.25">0.001</text>
<line x1="329.3" y1="307" x2="329.3" y2="310.8" stroke="#111" stroke-width="1.4" stroke-linecap="butt"/>
<text x="0" y="0" transform="translate(332.4 318.7) rotate(-45)" font-size="8" font-weight="bold" fill="#111" text-anchor="end" stroke="#111" stroke-width="0.25">0.01</text>
<line x1="352.3" y1="307" x2="352.3" y2="310.8" stroke="#111" stroke-width="1.4" stroke-linecap="butt"/>
<text x="0" y="0" transform="translate(355.4 318.7) rotate(-45)" font-size="8" font-weight="bold" fill="#111" text-anchor="end" stroke="#111" stroke-width="0.25">0.1</text>
<line x1="375.3" y1="307" x2="375.3" y2="310.8" stroke="#111" stroke-width="1.4" stroke-linecap="butt"/>
<text x="0" y="0" transform="translate(378.4 318.7) rotate(-45)" font-size="8" font-weight="bold" fill="#111" text-anchor="end" stroke="#111" stroke-width="0.25">1</text>
<line x1="398.3" y1="307" x2="398.3" y2="310.8" stroke="#111" stroke-width="1.4" stroke-linecap="butt"/>
<text x="0" y="0" transform="translate(401.4 318.7) rotate(-45)" font-size="8" font-weight="bold" fill="#111" text-anchor="end" stroke="#111" stroke-width="0.25">10</text>
<line x1="421.6" y1="307" x2="421.6" y2="310.8" stroke="#111" stroke-width="1.4" stroke-linecap="butt"/>
<text x="0" y="0" transform="translate(424.7 318.7) rotate(-45)" font-size="8" font-weight="bold" fill="#111" text-anchor="end" stroke="#111" stroke-width="0.25">100</text>
<text x="0" y="0" transform="translate(252.6 263.8) rotate(-90)" font-size="9.8" font-weight="bold" fill="#111" text-anchor="middle" textLength="24.7" lengthAdjust="spacingAndGlyphs">3β HSD</text>
<text x="314.4" y="342.5" font-size="8.6" font-weight="bold" fill="#1a1a1a" text-anchor="start" textLength="17.3" lengthAdjust="spacingAndGlyphs">IL1β</text>
<text x="338.6" y="342.5" font-size="8.6" font-weight="normal" fill="#1a1a1a" text-anchor="start">(</text>
<text x="341.9" y="342.5" font-size="8.6" font-weight="bold" fill="#1a1a1a" text-anchor="start" textLength="22.3" lengthAdjust="spacingAndGlyphs">ng/ml</text>
<text x="364.8" y="342.5" font-size="8.6" font-weight="normal" fill="#1a1a1a" text-anchor="start">)</text>
<rect x="312.9" y="343.5" width="60" height="4" fill="#fff"/>
<line x1="498.7" y1="214.7" x2="498.7" y2="219.6" stroke="#111" stroke-width="1.5" stroke-linecap="butt"/>
<line x1="494.1" y1="214.7" x2="503.3" y2="214.7" stroke="#111" stroke-width="1.5" stroke-linecap="butt"/>
<path d="M491.05 307 L491.05 220.35 L506.3 220.35 L506.3 307" fill="#99999b" stroke="#111" stroke-width="1.5"/>
<line x1="522" y1="208.4" x2="522" y2="213.6" stroke="#111" stroke-width="1.5" stroke-linecap="butt"/>
<line x1="517.4" y1="208.4" x2="526.6" y2="208.4" stroke="#111" stroke-width="1.5" stroke-linecap="butt"/>
<path d="M514.35 307 L514.35 214.35 L529.6 214.35 L529.6 307" fill="#99999b" stroke="#111" stroke-width="1.5"/>
<line x1="545" y1="216.7" x2="545" y2="224" stroke="#111" stroke-width="1.5" stroke-linecap="butt"/>
<line x1="540.4" y1="216.7" x2="549.6" y2="216.7" stroke="#111" stroke-width="1.5" stroke-linecap="butt"/>
<path d="M537.35 307 L537.35 224.75 L552.6 224.75 L552.6 307" fill="#99999b" stroke="#111" stroke-width="1.5"/>
<line x1="568" y1="208.7" x2="568" y2="214.3" stroke="#111" stroke-width="1.5" stroke-linecap="butt"/>
<line x1="563.4" y1="208.7" x2="572.6" y2="208.7" stroke="#111" stroke-width="1.5" stroke-linecap="butt"/>
<path d="M560.35 307 L560.35 215.05 L575.6 215.05 L575.6 307" fill="#99999b" stroke="#111" stroke-width="1.5"/>
<line x1="591" y1="218.7" x2="591" y2="224" stroke="#111" stroke-width="1.5" stroke-linecap="butt"/>
<line x1="586.4" y1="218.7" x2="595.6" y2="218.7" stroke="#111" stroke-width="1.5" stroke-linecap="butt"/>
<path d="M583.35 307 L583.35 224.75 L598.6 224.75 L598.6 307" fill="#99999b" stroke="#111" stroke-width="1.5"/>
<line x1="614" y1="218.7" x2="614" y2="224" stroke="#111" stroke-width="1.5" stroke-linecap="butt"/>
<line x1="609.4" y1="218.7" x2="618.6" y2="218.7" stroke="#111" stroke-width="1.5" stroke-linecap="butt"/>
<path d="M606.35 307 L606.35 224.75 L621.6 224.75 L621.6 307" fill="#99999b" stroke="#111" stroke-width="1.5"/>
<line x1="637" y1="210.4" x2="637" y2="214" stroke="#111" stroke-width="1.5" stroke-linecap="butt"/>
<line x1="632.4" y1="210.4" x2="641.6" y2="210.4" stroke="#111" stroke-width="1.5" stroke-linecap="butt"/>
<path d="M629.35 307 L629.35 214.75 L644.6 214.75 L644.6 307" fill="#99999b" stroke="#111" stroke-width="1.5"/>
<line x1="487.3" y1="197.7" x2="487.3" y2="307.6" stroke="#111" stroke-width="1.3" stroke-linecap="butt"/>
<line x1="486.7" y1="307" x2="649.3" y2="307" stroke="#111" stroke-width="1.3" stroke-linecap="butt"/>
<line x1="483.3" y1="307" x2="487.3" y2="307" stroke="#111" stroke-width="1.3" stroke-linecap="butt"/>
<text x="483.2" y="309.7" font-size="7.7" font-weight="bold" fill="#111" text-anchor="end" stroke="#111" stroke-width="0.25">0.0</text>
<line x1="483.3" y1="270.77" x2="487.3" y2="270.77" stroke="#111" stroke-width="1.3" stroke-linecap="butt"/>
<text x="483.2" y="273.47" font-size="7.7" font-weight="bold" fill="#111" text-anchor="end" stroke="#111" stroke-width="0.25">0.5</text>
<line x1="483.3" y1="234.53" x2="487.3" y2="234.53" stroke="#111" stroke-width="1.3" stroke-linecap="butt"/>
<text x="483.2" y="237.23" font-size="7.7" font-weight="bold" fill="#111" text-anchor="end" stroke="#111" stroke-width="0.25">1.0</text>
<line x1="483.3" y1="198.3" x2="487.3" y2="198.3" stroke="#111" stroke-width="1.3" stroke-linecap="butt"/>
<text x="483.2" y="201" font-size="7.7" font-weight="bold" fill="#111" text-anchor="end" stroke="#111" stroke-width="0.25">1.5</text>
<line x1="498.7" y1="307" x2="498.7" y2="310.8" stroke="#111" stroke-width="1.4" stroke-linecap="butt"/>
<text x="0" y="0" transform="translate(501.8 318.7) rotate(-45)" font-size="8" font-weight="bold" fill="#111" text-anchor="end" stroke="#111" stroke-width="0.25">0</text>
<line x1="522" y1="307" x2="522" y2="310.8" stroke="#111" stroke-width="1.4" stroke-linecap="butt"/>
<text x="0" y="0" transform="translate(525.1 318.7) rotate(-45)" font-size="8" font-weight="bold" fill="#111" text-anchor="end" stroke="#111" stroke-width="0.25">0.001</text>
<line x1="545" y1="307" x2="545" y2="310.8" stroke="#111" stroke-width="1.4" stroke-linecap="butt"/>
<text x="0" y="0" transform="translate(548.1 318.7) rotate(-45)" font-size="8" font-weight="bold" fill="#111" text-anchor="end" stroke="#111" stroke-width="0.25">0.01</text>
<line x1="568" y1="307" x2="568" y2="310.8" stroke="#111" stroke-width="1.4" stroke-linecap="butt"/>
<text x="0" y="0" transform="translate(571.1 318.7) rotate(-45)" font-size="8" font-weight="bold" fill="#111" text-anchor="end" stroke="#111" stroke-width="0.25">0.1</text>
<line x1="591" y1="307" x2="591" y2="310.8" stroke="#111" stroke-width="1.4" stroke-linecap="butt"/>
<text x="0" y="0" transform="translate(594.1 318.7) rotate(-45)" font-size="8" font-weight="bold" fill="#111" text-anchor="end" stroke="#111" stroke-width="0.25">1</text>
<line x1="614" y1="307" x2="614" y2="310.8" stroke="#111" stroke-width="1.4" stroke-linecap="butt"/>
<text x="0" y="0" transform="translate(617.1 318.7) rotate(-45)" font-size="8" font-weight="bold" fill="#111" text-anchor="end" stroke="#111" stroke-width="0.25">10</text>
<line x1="637" y1="307" x2="637" y2="310.8" stroke="#111" stroke-width="1.4" stroke-linecap="butt"/>
<text x="0" y="0" transform="translate(640.1 318.7) rotate(-45)" font-size="8" font-weight="bold" fill="#111" text-anchor="end" stroke="#111" stroke-width="0.25">100</text>
<text x="0" y="0" transform="translate(468.3 264) rotate(-90)" font-size="9.8" font-weight="bold" fill="#111" text-anchor="middle" textLength="31.6" lengthAdjust="spacingAndGlyphs">17β HSD</text>
<text x="529.5" y="342.5" font-size="8.6" font-weight="bold" fill="#1a1a1a" text-anchor="start" textLength="17.3" lengthAdjust="spacingAndGlyphs">IL1β</text>
<text x="553.7" y="342.5" font-size="8.6" font-weight="normal" fill="#1a1a1a" text-anchor="start">(</text>
<text x="557" y="342.5" font-size="8.6" font-weight="bold" fill="#1a1a1a" text-anchor="start" textLength="22.3" lengthAdjust="spacingAndGlyphs">ng/ml</text>
<text x="579.9" y="342.5" font-size="8.6" font-weight="normal" fill="#1a1a1a" text-anchor="start">)</text>
<line x1="67.3" y1="370.3" x2="67.3" y2="373" stroke="#111" stroke-width="1.5" stroke-linecap="butt"/>
<line x1="62.7" y1="370.3" x2="71.9" y2="370.3" stroke="#111" stroke-width="1.5" stroke-linecap="butt"/>
<path d="M59.65 467.5 L59.65 373.75 L74.9 373.75 L74.9 467.5" fill="#99999b" stroke="#111" stroke-width="1.5"/>
<line x1="90.3" y1="379.3" x2="90.3" y2="389.3" stroke="#111" stroke-width="1.5" stroke-linecap="butt"/>
<line x1="85.7" y1="379.3" x2="94.9" y2="379.3" stroke="#111" stroke-width="1.5" stroke-linecap="butt"/>
<path d="M82.65 467.5 L82.65 390.05 L97.9 390.05 L97.9 467.5" fill="#99999b" stroke="#111" stroke-width="1.5"/>
<line x1="113.3" y1="385.3" x2="113.3" y2="390.3" stroke="#111" stroke-width="1.5" stroke-linecap="butt"/>
<line x1="108.7" y1="385.3" x2="117.9" y2="385.3" stroke="#111" stroke-width="1.5" stroke-linecap="butt"/>
<path d="M105.65 467.5 L105.65 391.05 L120.9 391.05 L120.9 467.5" fill="#99999b" stroke="#111" stroke-width="1.5"/>
<line x1="136.3" y1="392.7" x2="136.3" y2="399.3" stroke="#111" stroke-width="1.5" stroke-linecap="butt"/>
<line x1="131.7" y1="392.7" x2="140.9" y2="392.7" stroke="#111" stroke-width="1.5" stroke-linecap="butt"/>
<path d="M128.65 467.5 L128.65 400.05 L143.9 400.05 L143.9 467.5" fill="#99999b" stroke="#111" stroke-width="1.5"/>
<line x1="159.3" y1="386.3" x2="159.3" y2="399" stroke="#111" stroke-width="1.5" stroke-linecap="butt"/>
<line x1="154.7" y1="386.3" x2="163.9" y2="386.3" stroke="#111" stroke-width="1.5" stroke-linecap="butt"/>
<path d="M151.65 467.5 L151.65 399.75 L166.9 399.75 L166.9 467.5" fill="#99999b" stroke="#111" stroke-width="1.5"/>
<line x1="182.3" y1="390" x2="182.3" y2="395.3" stroke="#111" stroke-width="1.5" stroke-linecap="butt"/>
<line x1="177.7" y1="390" x2="186.9" y2="390" stroke="#111" stroke-width="1.5" stroke-linecap="butt"/>
<path d="M174.65 467.5 L174.65 396.05 L189.9 396.05 L189.9 467.5" fill="#99999b" stroke="#111" stroke-width="1.5"/>
<line x1="205.7" y1="384" x2="205.7" y2="393.3" stroke="#111" stroke-width="1.5" stroke-linecap="butt"/>
<line x1="201.1" y1="384" x2="210.3" y2="384" stroke="#111" stroke-width="1.5" stroke-linecap="butt"/>
<path d="M198.05 467.5 L198.05 394.05 L213.3 394.05 L213.3 467.5" fill="#99999b" stroke="#111" stroke-width="1.5"/>
<line x1="55.7" y1="358.4" x2="55.7" y2="468.1" stroke="#111" stroke-width="1.3" stroke-linecap="butt"/>
<line x1="55.1" y1="467.5" x2="216.7" y2="467.5" stroke="#111" stroke-width="1.3" stroke-linecap="butt"/>
<line x1="51.7" y1="467.5" x2="55.7" y2="467.5" stroke="#111" stroke-width="1.3" stroke-linecap="butt"/>
<text x="51.6" y="470.2" font-size="7.7" font-weight="bold" fill="#111" text-anchor="end" stroke="#111" stroke-width="0.25">0.0</text>
<line x1="51.7" y1="440.38" x2="55.7" y2="440.38" stroke="#111" stroke-width="1.3" stroke-linecap="butt"/>
<text x="51.6" y="443.07" font-size="7.7" font-weight="bold" fill="#111" text-anchor="end" stroke="#111" stroke-width="0.25">0.5</text>
<line x1="51.7" y1="413.25" x2="55.7" y2="413.25" stroke="#111" stroke-width="1.3" stroke-linecap="butt"/>
<text x="51.6" y="415.95" font-size="7.7" font-weight="bold" fill="#111" text-anchor="end" stroke="#111" stroke-width="0.25">1.0</text>
<line x1="51.7" y1="386.12" x2="55.7" y2="386.12" stroke="#111" stroke-width="1.3" stroke-linecap="butt"/>
<text x="51.6" y="388.82" font-size="7.7" font-weight="bold" fill="#111" text-anchor="end" stroke="#111" stroke-width="0.25">1.5</text>
<line x1="51.7" y1="359" x2="55.7" y2="359" stroke="#111" stroke-width="1.3" stroke-linecap="butt"/>
<text x="51.6" y="361.7" font-size="7.7" font-weight="bold" fill="#111" text-anchor="end" stroke="#111" stroke-width="0.25">2.0</text>
<line x1="67.3" y1="467.5" x2="67.3" y2="471.3" stroke="#111" stroke-width="1.4" stroke-linecap="butt"/>
<text x="0" y="0" transform="translate(70.4 479.2) rotate(-45)" font-size="8" font-weight="bold" fill="#111" text-anchor="end" stroke="#111" stroke-width="0.25">0</text>
<line x1="90.3" y1="467.5" x2="90.3" y2="471.3" stroke="#111" stroke-width="1.4" stroke-linecap="butt"/>
<text x="0" y="0" transform="translate(93.4 479.2) rotate(-45)" font-size="8" font-weight="bold" fill="#111" text-anchor="end" stroke="#111" stroke-width="0.25">0.001</text>
<line x1="113.3" y1="467.5" x2="113.3" y2="471.3" stroke="#111" stroke-width="1.4" stroke-linecap="butt"/>
<text x="0" y="0" transform="translate(116.4 479.2) rotate(-45)" font-size="8" font-weight="bold" fill="#111" text-anchor="end" stroke="#111" stroke-width="0.25">0.01</text>
<line x1="136.3" y1="467.5" x2="136.3" y2="471.3" stroke="#111" stroke-width="1.4" stroke-linecap="butt"/>
<text x="0" y="0" transform="translate(139.4 479.2) rotate(-45)" font-size="8" font-weight="bold" fill="#111" text-anchor="end" stroke="#111" stroke-width="0.25">0.1</text>
<line x1="159.3" y1="467.5" x2="159.3" y2="471.3" stroke="#111" stroke-width="1.4" stroke-linecap="butt"/>
<text x="0" y="0" transform="translate(162.4 479.2) rotate(-45)" font-size="8" font-weight="bold" fill="#111" text-anchor="end" stroke="#111" stroke-width="0.25">1</text>
<line x1="182.3" y1="467.5" x2="182.3" y2="471.3" stroke="#111" stroke-width="1.4" stroke-linecap="butt"/>
<text x="0" y="0" transform="translate(185.4 479.2) rotate(-45)" font-size="8" font-weight="bold" fill="#111" text-anchor="end" stroke="#111" stroke-width="0.25">10</text>
<line x1="205.7" y1="467.5" x2="205.7" y2="471.3" stroke="#111" stroke-width="1.4" stroke-linecap="butt"/>
<text x="0" y="0" transform="translate(208.8 479.2) rotate(-45)" font-size="8" font-weight="bold" fill="#111" text-anchor="end" stroke="#111" stroke-width="0.25">100</text>
<text x="0" y="0" transform="translate(35.6 414.2) rotate(-90)" font-size="9.8" font-weight="bold" fill="#111" text-anchor="middle" textLength="37.3" lengthAdjust="spacingAndGlyphs">CYP11A1</text>
<text x="98.3" y="503.2" font-size="8.6" font-weight="bold" fill="#1a1a1a" text-anchor="start" textLength="17.3" lengthAdjust="spacingAndGlyphs">IL1β</text>
<text x="122.5" y="503.2" font-size="8.6" font-weight="normal" fill="#1a1a1a" text-anchor="start">(</text>
<text x="125.8" y="503.2" font-size="8.6" font-weight="bold" fill="#1a1a1a" text-anchor="start" textLength="22.3" lengthAdjust="spacingAndGlyphs">ng/ml</text>
<text x="148.7" y="503.2" font-size="8.6" font-weight="normal" fill="#1a1a1a" text-anchor="start">)</text>
<text x="90.3" y="376.4" font-size="9.4" font-weight="bold" fill="#1a1a1a" text-anchor="middle">*</text>
<text x="113.3" y="383" font-size="9.4" font-weight="bold" fill="#1a1a1a" text-anchor="middle">**</text>
<text x="136.3" y="388" font-size="9.4" font-weight="bold" fill="#1a1a1a" text-anchor="middle">**</text>
<text x="159.3" y="383.4" font-size="9.4" font-weight="bold" fill="#1a1a1a" text-anchor="middle">*</text>
<text x="182.3" y="383.4" font-size="9.4" font-weight="bold" fill="#1a1a1a" text-anchor="middle">**</text>
<text x="206.7" y="380.7" font-size="9.4" font-weight="bold" fill="#1a1a1a" text-anchor="middle">*</text>
<line x1="283.3" y1="367" x2="283.3" y2="371.7" stroke="#111" stroke-width="1.5" stroke-linecap="butt"/>
<line x1="278.7" y1="367" x2="287.9" y2="367" stroke="#111" stroke-width="1.5" stroke-linecap="butt"/>
<path d="M275.65 468.1 L275.65 372.45 L290.9 372.45 L290.9 468.1" fill="#99999b" stroke="#111" stroke-width="1.5"/>
<line x1="306.3" y1="380" x2="306.3" y2="385.7" stroke="#111" stroke-width="1.5" stroke-linecap="butt"/>
<line x1="301.7" y1="380" x2="310.9" y2="380" stroke="#111" stroke-width="1.5" stroke-linecap="butt"/>
<path d="M298.65 468.1 L298.65 386.45 L313.9 386.45 L313.9 468.1" fill="#99999b" stroke="#111" stroke-width="1.5"/>
<line x1="329.3" y1="391" x2="329.3" y2="393.3" stroke="#111" stroke-width="1.5" stroke-linecap="butt"/>
<line x1="324.7" y1="391" x2="333.9" y2="391" stroke="#111" stroke-width="1.5" stroke-linecap="butt"/>
<path d="M321.65 468.1 L321.65 394.05 L336.9 394.05 L336.9 468.1" fill="#99999b" stroke="#111" stroke-width="1.5"/>
<line x1="352.3" y1="391" x2="352.3" y2="392.7" stroke="#111" stroke-width="1.5" stroke-linecap="butt"/>
<line x1="347.7" y1="391" x2="356.9" y2="391" stroke="#111" stroke-width="1.5" stroke-linecap="butt"/>
<path d="M344.65 468.1 L344.65 393.45 L359.9 393.45 L359.9 468.1" fill="#99999b" stroke="#111" stroke-width="1.5"/>
<line x1="375.3" y1="387.3" x2="375.3" y2="391.3" stroke="#111" stroke-width="1.5" stroke-linecap="butt"/>
<line x1="370.7" y1="387.3" x2="379.9" y2="387.3" stroke="#111" stroke-width="1.5" stroke-linecap="butt"/>
<path d="M367.65 468.1 L367.65 392.05 L382.9 392.05 L382.9 468.1" fill="#99999b" stroke="#111" stroke-width="1.5"/>
<line x1="398.3" y1="402.7" x2="398.3" y2="409" stroke="#111" stroke-width="1.5" stroke-linecap="butt"/>
<line x1="393.7" y1="402.7" x2="402.9" y2="402.7" stroke="#111" stroke-width="1.5" stroke-linecap="butt"/>
<path d="M390.65 468.1 L390.65 409.75 L405.9 409.75 L405.9 468.1" fill="#99999b" stroke="#111" stroke-width="1.5"/>
<line x1="421.7" y1="395.7" x2="421.7" y2="404" stroke="#111" stroke-width="1.5" stroke-linecap="butt"/>
<line x1="417.1" y1="395.7" x2="426.3" y2="395.7" stroke="#111" stroke-width="1.5" stroke-linecap="butt"/>
<path d="M414.05 468.1 L414.05 404.75 L429.3 404.75 L429.3 468.1" fill="#99999b" stroke="#111" stroke-width="1.5"/>
<line x1="271.6" y1="358.7" x2="271.6" y2="468.7" stroke="#111" stroke-width="1.3" stroke-linecap="butt"/>
<line x1="271" y1="468.1" x2="434" y2="468.1" stroke="#111" stroke-width="1.3" stroke-linecap="butt"/>
<line x1="267.6" y1="468.1" x2="271.6" y2="468.1" stroke="#111" stroke-width="1.3" stroke-linecap="butt"/>
<text x="267.5" y="470.8" font-size="7.7" font-weight="bold" fill="#111" text-anchor="end" stroke="#111" stroke-width="0.25">0.0</text>
<line x1="267.6" y1="440.9" x2="271.6" y2="440.9" stroke="#111" stroke-width="1.3" stroke-linecap="butt"/>
<text x="267.5" y="443.6" font-size="7.7" font-weight="bold" fill="#111" text-anchor="end" stroke="#111" stroke-width="0.25">0.5</text>
<line x1="267.6" y1="413.7" x2="271.6" y2="413.7" stroke="#111" stroke-width="1.3" stroke-linecap="butt"/>
<text x="267.5" y="416.4" font-size="7.7" font-weight="bold" fill="#111" text-anchor="end" stroke="#111" stroke-width="0.25">1.0</text>
<line x1="267.6" y1="386.5" x2="271.6" y2="386.5" stroke="#111" stroke-width="1.3" stroke-linecap="butt"/>
<text x="267.5" y="389.2" font-size="7.7" font-weight="bold" fill="#111" text-anchor="end" stroke="#111" stroke-width="0.25">1.5</text>
<line x1="267.6" y1="359.3" x2="271.6" y2="359.3" stroke="#111" stroke-width="1.3" stroke-linecap="butt"/>
<text x="267.5" y="362" font-size="7.7" font-weight="bold" fill="#111" text-anchor="end" stroke="#111" stroke-width="0.25">2.0</text>
<line x1="283.3" y1="468.1" x2="283.3" y2="471.9" stroke="#111" stroke-width="1.4" stroke-linecap="butt"/>
<text x="0" y="0" transform="translate(286.4 479.8) rotate(-45)" font-size="8" font-weight="bold" fill="#111" text-anchor="end" stroke="#111" stroke-width="0.25">0</text>
<line x1="306.3" y1="468.1" x2="306.3" y2="471.9" stroke="#111" stroke-width="1.4" stroke-linecap="butt"/>
<text x="0" y="0" transform="translate(309.4 479.8) rotate(-45)" font-size="8" font-weight="bold" fill="#111" text-anchor="end" stroke="#111" stroke-width="0.25">0.001</text>
<line x1="329.3" y1="468.1" x2="329.3" y2="471.9" stroke="#111" stroke-width="1.4" stroke-linecap="butt"/>
<text x="0" y="0" transform="translate(332.4 479.8) rotate(-45)" font-size="8" font-weight="bold" fill="#111" text-anchor="end" stroke="#111" stroke-width="0.25">0.01</text>
<line x1="352.3" y1="468.1" x2="352.3" y2="471.9" stroke="#111" stroke-width="1.4" stroke-linecap="butt"/>
<text x="0" y="0" transform="translate(355.4 479.8) rotate(-45)" font-size="8" font-weight="bold" fill="#111" text-anchor="end" stroke="#111" stroke-width="0.25">0.1</text>
<line x1="375.3" y1="468.1" x2="375.3" y2="471.9" stroke="#111" stroke-width="1.4" stroke-linecap="butt"/>
<text x="0" y="0" transform="translate(378.4 479.8) rotate(-45)" font-size="8" font-weight="bold" fill="#111" text-anchor="end" stroke="#111" stroke-width="0.25">1</text>
<line x1="398.3" y1="468.1" x2="398.3" y2="471.9" stroke="#111" stroke-width="1.4" stroke-linecap="butt"/>
<text x="0" y="0" transform="translate(401.4 479.8) rotate(-45)" font-size="8" font-weight="bold" fill="#111" text-anchor="end" stroke="#111" stroke-width="0.25">10</text>
<line x1="421.7" y1="468.1" x2="421.7" y2="471.9" stroke="#111" stroke-width="1.4" stroke-linecap="butt"/>
<text x="0" y="0" transform="translate(424.8 479.8) rotate(-45)" font-size="8" font-weight="bold" fill="#111" text-anchor="end" stroke="#111" stroke-width="0.25">100</text>
<text x="0" y="0" transform="translate(252.3 414.2) rotate(-90)" font-size="9.8" font-weight="bold" fill="#111" text-anchor="middle" textLength="37.3" lengthAdjust="spacingAndGlyphs">CYP17A1</text>
<text x="319.5" y="503.5" font-size="8.6" font-weight="bold" fill="#1a1a1a" text-anchor="start" textLength="17.3" lengthAdjust="spacingAndGlyphs">IL1β</text>
<text x="343.7" y="503.5" font-size="8.6" font-weight="normal" fill="#1a1a1a" text-anchor="start">(</text>
<text x="347" y="503.5" font-size="8.6" font-weight="bold" fill="#1a1a1a" text-anchor="start" textLength="22.3" lengthAdjust="spacingAndGlyphs">ng/ml</text>
<text x="369.9" y="503.5" font-size="8.6" font-weight="normal" fill="#1a1a1a" text-anchor="start">)</text>
<text x="306.7" y="374.7" font-size="9.4" font-weight="bold" fill="#1a1a1a" text-anchor="middle">*</text>
<text x="329.3" y="385.4" font-size="9.4" font-weight="bold" fill="#1a1a1a" text-anchor="middle">**</text>
<text x="352.3" y="385.4" font-size="9.4" font-weight="bold" fill="#1a1a1a" text-anchor="middle">**</text>
<text x="375.3" y="384" font-size="9.4" font-weight="bold" fill="#1a1a1a" text-anchor="middle">**</text>
<text x="398.3" y="396" font-size="9.4" font-weight="bold" fill="#1a1a1a" text-anchor="middle">**</text>
<text x="421.7" y="393" font-size="9.4" font-weight="bold" fill="#1a1a1a" text-anchor="middle">**</text>
<line x1="83.5" y1="577.7" x2="83.5" y2="584.3" stroke="#1a1a1a" stroke-width="1.65" stroke-linecap="butt"/>
<line x1="74.7" y1="577.7" x2="92.3" y2="577.7" stroke="#1a1a1a" stroke-width="1.65" stroke-linecap="butt"/>
<path d="M66.75 669.3 L66.75 585.05 L100.25 585.05 L100.25 669.3" fill="#1a1a1a" stroke="#1a1a1a" stroke-width="1.5"/>
<line x1="121.35" y1="581" x2="121.35" y2="588" stroke="#adadad" stroke-width="1.65" stroke-linecap="butt"/>
<line x1="112.55" y1="581" x2="130.15" y2="581" stroke="#adadad" stroke-width="1.65" stroke-linecap="butt"/>
<path d="M104.75 669.3 L104.75 588.75 L137.95 588.75 L137.95 669.3" fill="#adadad" stroke="#adadad" stroke-width="1.5"/>
<line x1="171.35" y1="598.3" x2="171.35" y2="604.3" stroke="#1a1a1a" stroke-width="1.65" stroke-linecap="butt"/>
<line x1="162.55" y1="598.3" x2="180.15" y2="598.3" stroke="#1a1a1a" stroke-width="1.65" stroke-linecap="butt"/>
<path d="M155.05 669.3 L155.05 604.05 L187.95 604.05 L187.95 669.3" fill="#1a1a1a" stroke="#9c9c9c" stroke-width="1.5"/>
<line x1="208.5" y1="596.7" x2="208.5" y2="603.3" stroke="#b4b4b4" stroke-width="1.65" stroke-linecap="butt"/>
<line x1="199.7" y1="596.7" x2="217.3" y2="596.7" stroke="#b4b4b4" stroke-width="1.65" stroke-linecap="butt"/>
<path d="M191.75 669.3 L191.75 604.05 L225.25 604.05 L225.25 669.3" fill="#dadada" stroke="#a8a8a8" stroke-width="1.5"/>
<line x1="58.3" y1="551.1" x2="58.3" y2="669.9" stroke="#111" stroke-width="1.3" stroke-linecap="butt"/>
<line x1="57.7" y1="669.3" x2="235" y2="669.3" stroke="#111" stroke-width="1.3" stroke-linecap="butt"/>
<line x1="54.8" y1="669.3" x2="58.3" y2="669.3" stroke="#111" stroke-width="1.3" stroke-linecap="butt"/>
<text x="54" y="672.25" font-size="8.4" font-weight="bold" fill="#111" text-anchor="end">0.0</text>
<line x1="54.8" y1="630.1" x2="58.3" y2="630.1" stroke="#111" stroke-width="1.3" stroke-linecap="butt"/>
<text x="54" y="633.05" font-size="8.4" font-weight="bold" fill="#111" text-anchor="end">0.5</text>
<line x1="54.8" y1="590.9" x2="58.3" y2="590.9" stroke="#111" stroke-width="1.3" stroke-linecap="butt"/>
<text x="54" y="593.85" font-size="8.4" font-weight="bold" fill="#111" text-anchor="end">1.0</text>
<line x1="54.8" y1="551.7" x2="58.3" y2="551.7" stroke="#111" stroke-width="1.3" stroke-linecap="butt"/>
<text x="54" y="554.65" font-size="8.4" font-weight="bold" fill="#111" text-anchor="end">1.5</text>
<line x1="83.5" y1="669.3" x2="83.5" y2="673.5" stroke="#111" stroke-width="1.4" stroke-linecap="butt"/>
<line x1="121.35" y1="669.3" x2="121.35" y2="673.5" stroke="#111" stroke-width="1.4" stroke-linecap="butt"/>
<line x1="171.35" y1="669.3" x2="171.35" y2="673.5" stroke="#111" stroke-width="1.4" stroke-linecap="butt"/>
<line x1="208.5" y1="669.3" x2="208.5" y2="673.5" stroke="#111" stroke-width="1.4" stroke-linecap="butt"/>
<text x="0" y="0" transform="translate(79.9 688) rotate(-45)" font-size="8.5" font-weight="bold" fill="#111" text-anchor="middle" stroke="#111" stroke-width="0.25">G4C</text>
<text x="0" y="0" transform="translate(117.6 688) rotate(-45)" font-size="8.5" font-weight="bold" fill="#111" text-anchor="middle" stroke="#111" stroke-width="0.25">G4H</text>
<text x="0" y="0" transform="translate(166.6 689) rotate(-45)" font-size="8.5" font-weight="bold" fill="#111" text-anchor="middle" stroke="#111" stroke-width="0.25">G12C</text>
<text x="0" y="0" transform="translate(203.6 689) rotate(-45)" font-size="8.5" font-weight="bold" fill="#111" text-anchor="middle" stroke="#111" stroke-width="0.25">G12H</text>
<text x="0" y="0" transform="translate(36.9 610) rotate(-90)" font-size="10.4" font-weight="bold" fill="#111" text-anchor="middle" textLength="24.6" lengthAdjust="spacingAndGlyphs">STAR</text>
<path d="M82.7 573.3 L82.7 570 L123.3 570 L123.3 573.3" fill="none" stroke="#111" stroke-width="1.75" stroke-linejoin="round"/>
<text x="102.1" y="566.2" font-size="10.8" font-weight="normal" fill="#222" text-anchor="middle">n.s.</text>
<path d="M168.3 591.7 L168.3 588.3 L209 588.3 L209 591.7" fill="none" stroke="#111" stroke-width="1.75" stroke-linejoin="round"/>
<text x="188.7" y="585.2" font-size="10.8" font-weight="normal" fill="#222" text-anchor="middle">n.s.</text>
<line x1="300" y1="573.7" x2="300" y2="580.7" stroke="#1a1a1a" stroke-width="1.65" stroke-linecap="butt"/>
<line x1="291.2" y1="573.7" x2="308.8" y2="573.7" stroke="#1a1a1a" stroke-width="1.65" stroke-linecap="butt"/>
<path d="M283.45 669.2 L283.45 581.45 L316.55 581.45 L316.55 669.2" fill="#1a1a1a" stroke="#1a1a1a" stroke-width="1.5"/>
<line x1="337.15" y1="581.7" x2="337.15" y2="589.3" stroke="#adadad" stroke-width="1.65" stroke-linecap="butt"/>
<line x1="328.35" y1="581.7" x2="345.95" y2="581.7" stroke="#adadad" stroke-width="1.65" stroke-linecap="butt"/>
<path d="M320.75 669.2 L320.75 590.05 L353.55 590.05 L353.55 669.2" fill="#adadad" stroke="#adadad" stroke-width="1.5"/>
<line x1="387.2" y1="591" x2="387.2" y2="599.3" stroke="#9c9c9c" stroke-width="1.65" stroke-linecap="butt"/>
<line x1="378.4" y1="591" x2="396" y2="591" stroke="#9c9c9c" stroke-width="1.65" stroke-linecap="butt"/>
<path d="M370.75 669.2 L370.75 599.05 L403.95 599.05 L403.95 669.2" fill="#1a1a1a" stroke="#9c9c9c" stroke-width="1.5"/>
<line x1="424.2" y1="586.7" x2="424.2" y2="595.7" stroke="#b4b4b4" stroke-width="1.65" stroke-linecap="butt"/>
<line x1="415.4" y1="586.7" x2="433" y2="586.7" stroke="#b4b4b4" stroke-width="1.65" stroke-linecap="butt"/>
<path d="M407.45 669.2 L407.45 596.45 L440.95 596.45 L440.95 669.2" fill="#dadada" stroke="#a8a8a8" stroke-width="1.5"/>
<line x1="274.5" y1="551.1" x2="274.5" y2="669.8" stroke="#111" stroke-width="1.3" stroke-linecap="butt"/>
<line x1="273.9" y1="669.2" x2="451.7" y2="669.2" stroke="#111" stroke-width="1.3" stroke-linecap="butt"/>
<line x1="271" y1="669.2" x2="274.5" y2="669.2" stroke="#111" stroke-width="1.3" stroke-linecap="butt"/>
<text x="270.2" y="672.15" font-size="8.4" font-weight="bold" fill="#111" text-anchor="end">0.0</text>
<line x1="271" y1="630.03" x2="274.5" y2="630.03" stroke="#111" stroke-width="1.3" stroke-linecap="butt"/>
<text x="270.2" y="632.98" font-size="8.4" font-weight="bold" fill="#111" text-anchor="end">0.5</text>
<line x1="271" y1="590.87" x2="274.5" y2="590.87" stroke="#111" stroke-width="1.3" stroke-linecap="butt"/>
<text x="270.2" y="593.82" font-size="8.4" font-weight="bold" fill="#111" text-anchor="end">1.0</text>
<line x1="271" y1="551.7" x2="274.5" y2="551.7" stroke="#111" stroke-width="1.3" stroke-linecap="butt"/>
<text x="270.2" y="554.65" font-size="8.4" font-weight="bold" fill="#111" text-anchor="end">1.5</text>
<line x1="300" y1="669.2" x2="300" y2="673.4" stroke="#111" stroke-width="1.4" stroke-linecap="butt"/>
<line x1="337.15" y1="669.2" x2="337.15" y2="673.4" stroke="#111" stroke-width="1.4" stroke-linecap="butt"/>
<line x1="387.2" y1="669.2" x2="387.2" y2="673.4" stroke="#111" stroke-width="1.4" stroke-linecap="butt"/>
<line x1="424.2" y1="669.2" x2="424.2" y2="673.4" stroke="#111" stroke-width="1.4" stroke-linecap="butt"/>
<text x="0" y="0" transform="translate(296.9 687) rotate(-45)" font-size="8.5" font-weight="bold" fill="#111" text-anchor="middle" stroke="#111" stroke-width="0.25">G4C</text>
<text x="0" y="0" transform="translate(338.2 686.5) rotate(-45)" font-size="8.5" font-weight="bold" fill="#111" text-anchor="middle" stroke="#111" stroke-width="0.25">G4H</text>
<text x="0" y="0" transform="translate(380.9 688.3) rotate(-45)" font-size="8.5" font-weight="bold" fill="#111" text-anchor="middle" stroke="#111" stroke-width="0.25">G12C</text>
<text x="0" y="0" transform="translate(419.2 688) rotate(-45)" font-size="8.5" font-weight="bold" fill="#111" text-anchor="middle" stroke="#111" stroke-width="0.25">G12H</text>
<text x="0" y="0" transform="translate(253.6 611) rotate(-90)" font-size="10.4" font-weight="bold" fill="#111" text-anchor="middle" textLength="29" lengthAdjust="spacingAndGlyphs">3β HSD</text>
<path d="M297.7 569 L297.7 565.7 L338.3 565.7 L338.3 569" fill="none" stroke="#111" stroke-width="1.75" stroke-linejoin="round"/>
<text x="316.4" y="561.8" font-size="10.8" font-weight="normal" fill="#222" text-anchor="middle">n.s.</text>
<path d="M384 582.3 L384 579 L425 579 L425 582.3" fill="none" stroke="#111" stroke-width="1.75" stroke-linejoin="round"/>
<text x="404.4" y="575.2" font-size="10.8" font-weight="normal" fill="#222" text-anchor="middle">n.s.</text>
<line x1="517.15" y1="576.2" x2="517.15" y2="580.9" stroke="#1a1a1a" stroke-width="1.65" stroke-linecap="butt"/>
<line x1="508.35" y1="576.2" x2="525.95" y2="576.2" stroke="#1a1a1a" stroke-width="1.65" stroke-linecap="butt"/>
<path d="M500.65 669.6 L500.65 581.65 L533.65 581.65 L533.65 669.6" fill="#1a1a1a" stroke="#1a1a1a" stroke-width="1.5"/>
<line x1="554.6" y1="572.5" x2="554.6" y2="578.9" stroke="#adadad" stroke-width="1.65" stroke-linecap="butt"/>
<line x1="545.8" y1="572.5" x2="563.4" y2="572.5" stroke="#adadad" stroke-width="1.65" stroke-linecap="butt"/>
<path d="M537.85 669.6 L537.85 579.65 L571.35 579.65 L571.35 669.6" fill="#adadad" stroke="#adadad" stroke-width="1.5"/>
<line x1="605.05" y1="588.9" x2="605.05" y2="595.5" stroke="#9c9c9c" stroke-width="1.65" stroke-linecap="butt"/>
<line x1="596.25" y1="588.9" x2="613.85" y2="588.9" stroke="#9c9c9c" stroke-width="1.65" stroke-linecap="butt"/>
<path d="M588.75 669.6 L588.75 595.25 L621.65 595.25 L621.65 669.6" fill="#1a1a1a" stroke="#9c9c9c" stroke-width="1.5"/>
<line x1="642.05" y1="594.2" x2="642.05" y2="599.9" stroke="#b4b4b4" stroke-width="1.65" stroke-linecap="butt"/>
<line x1="633.25" y1="594.2" x2="650.85" y2="594.2" stroke="#b4b4b4" stroke-width="1.65" stroke-linecap="butt"/>
<path d="M625.15 669.6 L625.15 600.65 L658.95 600.65 L658.95 669.6" fill="#dadada" stroke="#a8a8a8" stroke-width="1.5"/>
<line x1="492.4" y1="551.3" x2="492.4" y2="670.2" stroke="#111" stroke-width="1.3" stroke-linecap="butt"/>
<line x1="491.8" y1="669.6" x2="668.6" y2="669.6" stroke="#111" stroke-width="1.3" stroke-linecap="butt"/>
<line x1="488.9" y1="669.6" x2="492.4" y2="669.6" stroke="#111" stroke-width="1.3" stroke-linecap="butt"/>
<text x="488.1" y="672.55" font-size="8.4" font-weight="bold" fill="#111" text-anchor="end">0.0</text>
<line x1="488.9" y1="630.37" x2="492.4" y2="630.37" stroke="#111" stroke-width="1.3" stroke-linecap="butt"/>
<text x="488.1" y="633.32" font-size="8.4" font-weight="bold" fill="#111" text-anchor="end">0.5</text>
<line x1="488.9" y1="591.13" x2="492.4" y2="591.13" stroke="#111" stroke-width="1.3" stroke-linecap="butt"/>
<text x="488.1" y="594.08" font-size="8.4" font-weight="bold" fill="#111" text-anchor="end">1.0</text>
<line x1="488.9" y1="551.9" x2="492.4" y2="551.9" stroke="#111" stroke-width="1.3" stroke-linecap="butt"/>
<text x="488.1" y="554.85" font-size="8.4" font-weight="bold" fill="#111" text-anchor="end">1.5</text>
<line x1="517.15" y1="669.6" x2="517.15" y2="673.8" stroke="#111" stroke-width="1.4" stroke-linecap="butt"/>
<line x1="554.6" y1="669.6" x2="554.6" y2="673.8" stroke="#111" stroke-width="1.4" stroke-linecap="butt"/>
<line x1="605.05" y1="669.6" x2="605.05" y2="673.8" stroke="#111" stroke-width="1.4" stroke-linecap="butt"/>
<line x1="642.05" y1="669.6" x2="642.05" y2="673.8" stroke="#111" stroke-width="1.4" stroke-linecap="butt"/>
<text x="0" y="0" transform="translate(512.6 688) rotate(-45)" font-size="8.5" font-weight="bold" fill="#111" text-anchor="middle" stroke="#111" stroke-width="0.25">G4C</text>
<text x="0" y="0" transform="translate(550.9 688) rotate(-45)" font-size="8.5" font-weight="bold" fill="#111" text-anchor="middle" stroke="#111" stroke-width="0.25">G4H</text>
<text x="0" y="0" transform="translate(599.2 690) rotate(-45)" font-size="8.5" font-weight="bold" fill="#111" text-anchor="middle" stroke="#111" stroke-width="0.25">G12C</text>
<text x="0" y="0" transform="translate(636.6 690) rotate(-45)" font-size="8.5" font-weight="bold" fill="#111" text-anchor="middle" stroke="#111" stroke-width="0.25">G12H</text>
<text x="0" y="0" transform="translate(470.9 609) rotate(-90)" font-size="10.4" font-weight="bold" fill="#111" text-anchor="middle" textLength="38.3" lengthAdjust="spacingAndGlyphs">17β HSD</text>
<path d="M514 565.7 L514 562.3 L554.7 562.3 L554.7 565.7" fill="none" stroke="#111" stroke-width="1.75" stroke-linejoin="round"/>
<text x="533.1" y="558.5" font-size="10.8" font-weight="normal" fill="#222" text-anchor="middle">n.s.</text>
<path d="M603.3 584.3 L603.3 581 L644.3 581 L644.3 584.3" fill="none" stroke="#111" stroke-width="1.75" stroke-linejoin="round"/>
<text x="625.1" y="577.2" font-size="10.8" font-weight="normal" fill="#222" text-anchor="middle">n.s.</text>
<line x1="83.35" y1="757" x2="83.35" y2="759.7" stroke="#1a1a1a" stroke-width="1.65" stroke-linecap="butt"/>
<line x1="74.55" y1="757" x2="92.15" y2="757" stroke="#1a1a1a" stroke-width="1.65" stroke-linecap="butt"/>
<path d="M66.75 836.5 L66.75 760.45 L99.95 760.45 L99.95 836.5" fill="#1a1a1a" stroke="#1a1a1a" stroke-width="1.5"/>
<line x1="121.35" y1="746" x2="121.35" y2="749.3" stroke="#adadad" stroke-width="1.65" stroke-linecap="butt"/>
<line x1="112.55" y1="746" x2="130.15" y2="746" stroke="#adadad" stroke-width="1.65" stroke-linecap="butt"/>
<path d="M104.75 836.5 L104.75 750.05 L137.95 750.05 L137.95 836.5" fill="#adadad" stroke="#adadad" stroke-width="1.5"/>
<line x1="171.35" y1="762.7" x2="171.35" y2="765" stroke="#9c9c9c" stroke-width="1.65" stroke-linecap="butt"/>
<line x1="162.55" y1="762.7" x2="180.15" y2="762.7" stroke="#9c9c9c" stroke-width="1.65" stroke-linecap="butt"/>
<path d="M155.05 836.5 L155.05 764.75 L187.95 764.75 L187.95 836.5" fill="#1a1a1a" stroke="#9c9c9c" stroke-width="1.5"/>
<line x1="208.5" y1="776" x2="208.5" y2="779.3" stroke="#b4b4b4" stroke-width="1.65" stroke-linecap="butt"/>
<line x1="199.7" y1="776" x2="217.3" y2="776" stroke="#b4b4b4" stroke-width="1.65" stroke-linecap="butt"/>
<path d="M191.75 836.5 L191.75 780.05 L225.25 780.05 L225.25 836.5" fill="#dadada" stroke="#a8a8a8" stroke-width="1.5"/>
<line x1="58.3" y1="717.9" x2="58.3" y2="837.1" stroke="#111" stroke-width="1.3" stroke-linecap="butt"/>
<line x1="57.7" y1="836.5" x2="235" y2="836.5" stroke="#111" stroke-width="1.3" stroke-linecap="butt"/>
<line x1="54.8" y1="836.5" x2="58.3" y2="836.5" stroke="#111" stroke-width="1.3" stroke-linecap="butt"/>
<text x="54" y="839.45" font-size="8.4" font-weight="bold" fill="#111" text-anchor="end">0.0</text>
<line x1="54.8" y1="816.83" x2="58.3" y2="816.83" stroke="#111" stroke-width="1.3" stroke-linecap="butt"/>
<text x="54" y="819.78" font-size="8.4" font-weight="bold" fill="#111" text-anchor="end">0.5</text>
<line x1="54.8" y1="797.17" x2="58.3" y2="797.17" stroke="#111" stroke-width="1.3" stroke-linecap="butt"/>
<text x="54" y="800.12" font-size="8.4" font-weight="bold" fill="#111" text-anchor="end">1.0</text>
<line x1="54.8" y1="777.5" x2="58.3" y2="777.5" stroke="#111" stroke-width="1.3" stroke-linecap="butt"/>
<text x="54" y="780.45" font-size="8.4" font-weight="bold" fill="#111" text-anchor="end">1.5</text>
<line x1="54.8" y1="757.83" x2="58.3" y2="757.83" stroke="#111" stroke-width="1.3" stroke-linecap="butt"/>
<text x="54" y="760.78" font-size="8.4" font-weight="bold" fill="#111" text-anchor="end">2.0</text>
<line x1="54.8" y1="738.17" x2="58.3" y2="738.17" stroke="#111" stroke-width="1.3" stroke-linecap="butt"/>
<text x="54" y="741.12" font-size="8.4" font-weight="bold" fill="#111" text-anchor="end">2.5</text>
<line x1="54.8" y1="718.5" x2="58.3" y2="718.5" stroke="#111" stroke-width="1.3" stroke-linecap="butt"/>
<text x="54" y="721.45" font-size="8.4" font-weight="bold" fill="#111" text-anchor="end">3.0</text>
<line x1="83.35" y1="836.5" x2="83.35" y2="840.7" stroke="#111" stroke-width="1.4" stroke-linecap="butt"/>
<line x1="121.35" y1="836.5" x2="121.35" y2="840.7" stroke="#111" stroke-width="1.4" stroke-linecap="butt"/>
<line x1="171.35" y1="836.5" x2="171.35" y2="840.7" stroke="#111" stroke-width="1.4" stroke-linecap="butt"/>
<line x1="208.5" y1="836.5" x2="208.5" y2="840.7" stroke="#111" stroke-width="1.4" stroke-linecap="butt"/>
<text x="0" y="0" transform="translate(80.9 855.7) rotate(-45)" font-size="8.5" font-weight="bold" fill="#111" text-anchor="middle" stroke="#111" stroke-width="0.25">G4C</text>
<text x="0" y="0" transform="translate(118.2 855.7) rotate(-45)" font-size="8.5" font-weight="bold" fill="#111" text-anchor="middle" stroke="#111" stroke-width="0.25">G4H</text>
<text x="0" y="0" transform="translate(166.6 856.7) rotate(-45)" font-size="8.5" font-weight="bold" fill="#111" text-anchor="middle" stroke="#111" stroke-width="0.25">G12C</text>
<text x="0" y="0" transform="translate(203.6 856.7) rotate(-45)" font-size="8.5" font-weight="bold" fill="#111" text-anchor="middle" stroke="#111" stroke-width="0.25">G12H</text>
<text x="0" y="0" transform="translate(36.9 777) rotate(-90)" font-size="10.4" font-weight="bold" fill="#111" text-anchor="middle" textLength="39.4" lengthAdjust="spacingAndGlyphs">CYP11A1</text>
<path d="M83.2 747.7 L83.2 730 L122.3 730 L122.3 733.6" fill="none" stroke="#111" stroke-width="1.75" stroke-linejoin="round"/>
<text x="103.3" y="724.5" font-size="7.8" font-weight="normal" fill="#151515" text-anchor="middle" textLength="35.5" lengthAdjust="spacingAndGlyphs">P=0.0219</text>
<path d="M170.3 758.7 L170.3 755.3 L209.4 755.3 L209.4 772.7" fill="none" stroke="#111" stroke-width="1.75" stroke-linejoin="round"/>
<text x="190" y="749.8" font-size="7.8" font-weight="normal" fill="#151515" text-anchor="middle" textLength="35.5" lengthAdjust="spacingAndGlyphs">P=0.0021</text>
<line x1="299.95" y1="765.3" x2="299.95" y2="769" stroke="#1a1a1a" stroke-width="1.65" stroke-linecap="butt"/>
<line x1="291.15" y1="765.3" x2="308.75" y2="765.3" stroke="#1a1a1a" stroke-width="1.65" stroke-linecap="butt"/>
<path d="M283.55 836.5 L283.55 769.75 L316.35 769.75 L316.35 836.5" fill="#1a1a1a" stroke="#1a1a1a" stroke-width="1.5"/>
<line x1="337.75" y1="743.7" x2="337.75" y2="748.3" stroke="#adadad" stroke-width="1.65" stroke-linecap="butt"/>
<line x1="328.95" y1="743.7" x2="346.55" y2="743.7" stroke="#adadad" stroke-width="1.65" stroke-linecap="butt"/>
<path d="M321.15 836.5 L321.15 749.05 L354.35 749.05 L354.35 836.5" fill="#adadad" stroke="#adadad" stroke-width="1.5"/>
<line x1="387.75" y1="777.3" x2="387.75" y2="781.3" stroke="#9c9c9c" stroke-width="1.65" stroke-linecap="butt"/>
<line x1="378.95" y1="777.3" x2="396.55" y2="777.3" stroke="#9c9c9c" stroke-width="1.65" stroke-linecap="butt"/>
<path d="M371.45 836.5 L371.45 781.05 L404.35 781.05 L404.35 836.5" fill="#1a1a1a" stroke="#9c9c9c" stroke-width="1.5"/>
<line x1="425.05" y1="789.3" x2="425.05" y2="793" stroke="#b4b4b4" stroke-width="1.65" stroke-linecap="butt"/>
<line x1="416.25" y1="789.3" x2="433.85" y2="789.3" stroke="#b4b4b4" stroke-width="1.65" stroke-linecap="butt"/>
<path d="M408.15 836.5 L408.15 793.75 L441.95 793.75 L441.95 836.5" fill="#dadada" stroke="#a8a8a8" stroke-width="1.5"/>
<line x1="274.9" y1="717.9" x2="274.9" y2="837.1" stroke="#111" stroke-width="1.3" stroke-linecap="butt"/>
<line x1="274.3" y1="836.5" x2="452" y2="836.5" stroke="#111" stroke-width="1.3" stroke-linecap="butt"/>
<line x1="271.4" y1="836.5" x2="274.9" y2="836.5" stroke="#111" stroke-width="1.3" stroke-linecap="butt"/>
<text x="270.6" y="839.45" font-size="8.4" font-weight="bold" fill="#111" text-anchor="end">0.0</text>
<line x1="271.4" y1="807" x2="274.9" y2="807" stroke="#111" stroke-width="1.3" stroke-linecap="butt"/>
<text x="270.6" y="809.95" font-size="8.4" font-weight="bold" fill="#111" text-anchor="end">0.5</text>
<line x1="271.4" y1="777.5" x2="274.9" y2="777.5" stroke="#111" stroke-width="1.3" stroke-linecap="butt"/>
<text x="270.6" y="780.45" font-size="8.4" font-weight="bold" fill="#111" text-anchor="end">1.0</text>
<line x1="271.4" y1="748" x2="274.9" y2="748" stroke="#111" stroke-width="1.3" stroke-linecap="butt"/>
<text x="270.6" y="750.95" font-size="8.4" font-weight="bold" fill="#111" text-anchor="end">1.5</text>
<line x1="271.4" y1="718.5" x2="274.9" y2="718.5" stroke="#111" stroke-width="1.3" stroke-linecap="butt"/>
<text x="270.6" y="721.45" font-size="8.4" font-weight="bold" fill="#111" text-anchor="end">2.0</text>
<line x1="299.95" y1="836.5" x2="299.95" y2="840.7" stroke="#111" stroke-width="1.4" stroke-linecap="butt"/>
<line x1="337.75" y1="836.5" x2="337.75" y2="840.7" stroke="#111" stroke-width="1.4" stroke-linecap="butt"/>
<line x1="387.75" y1="836.5" x2="387.75" y2="840.7" stroke="#111" stroke-width="1.4" stroke-linecap="butt"/>
<line x1="425.05" y1="836.5" x2="425.05" y2="840.7" stroke="#111" stroke-width="1.4" stroke-linecap="butt"/>
<text x="0" y="0" transform="translate(296.9 855.7) rotate(-45)" font-size="8.5" font-weight="bold" fill="#111" text-anchor="middle" stroke="#111" stroke-width="0.25">G4C</text>
<text x="0" y="0" transform="translate(334.9 855.7) rotate(-45)" font-size="8.5" font-weight="bold" fill="#111" text-anchor="middle" stroke="#111" stroke-width="0.25">G4H</text>
<text x="0" y="0" transform="translate(382.6 856.7) rotate(-45)" font-size="8.5" font-weight="bold" fill="#111" text-anchor="middle" stroke="#111" stroke-width="0.25">G12C</text>
<text x="0" y="0" transform="translate(420.2 856.7) rotate(-45)" font-size="8.5" font-weight="bold" fill="#111" text-anchor="middle" stroke="#111" stroke-width="0.25">G12H</text>
<text x="0" y="0" transform="translate(252.9 777) rotate(-90)" font-size="10.4" font-weight="bold" fill="#111" text-anchor="middle" textLength="39.4" lengthAdjust="spacingAndGlyphs">CYP17A1</text>
<path d="M298.3 750 L298.3 732.3 L338.7 732.3 L338.7 736" fill="none" stroke="#111" stroke-width="1.75" stroke-linejoin="round"/>
<text x="318.3" y="727.1" font-size="7.8" font-weight="normal" fill="#151515" text-anchor="middle" textLength="35.5" lengthAdjust="spacingAndGlyphs">P=0.0047</text>
<path d="M386.7 769.3 L386.7 765.7 L426.7 765.7 L426.7 782.7" fill="none" stroke="#111" stroke-width="1.75" stroke-linejoin="round"/>
<text x="407.7" y="760.8" font-size="7.8" font-weight="normal" fill="#151515" text-anchor="middle" textLength="35.5" lengthAdjust="spacingAndGlyphs">P=0.0359</text>
</g>
</svg>
</body></html>
